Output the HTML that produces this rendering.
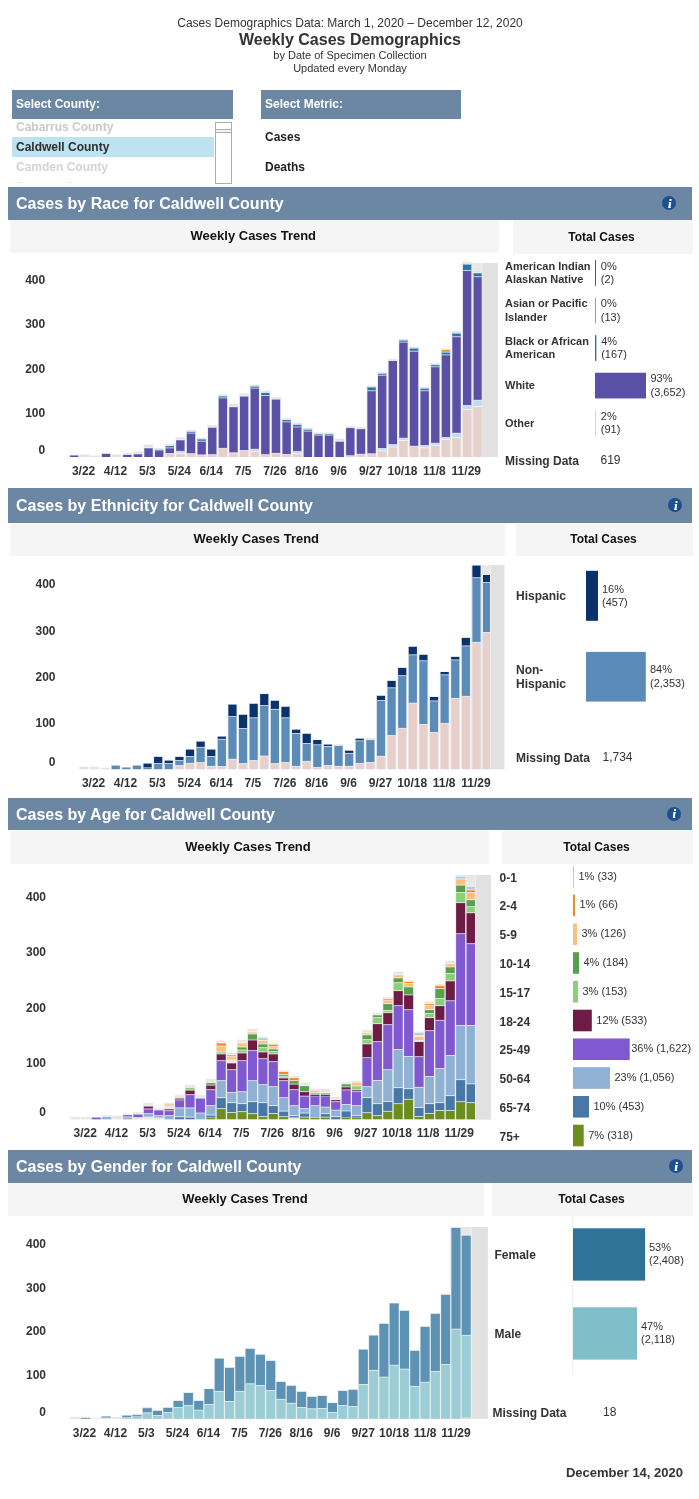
<!DOCTYPE html><html><head><meta charset="utf-8"><title>Weekly Cases Demographics</title>
<style>html,body{margin:0;padding:0;background:#fff;}body{width:699px;height:1499px;position:relative;overflow:hidden;font-family:"Liberation Sans", Arial, sans-serif;}svg{position:absolute;left:0;top:0;}</style></head><body>
<svg width="699" height="1499" viewBox="0 0 699 1499" shape-rendering="auto">
<rect x="462.50" y="263.00" width="35.30" height="194.00" fill="#efefef"/>
<rect x="462.50" y="263.00" width="19.00" height="194.00" fill="#e8e8e8"/>
<rect x="482.30" y="263.00" width="15.50" height="194.00" fill="#e1e1e1"/>
<rect x="69.20" y="455.02" width="10.00" height="1.98" fill="#ececec"/>
<rect x="70.00" y="455.50" width="8.40" height="1.50" fill="#5a50a6"/>
<rect x="79.82" y="454.42" width="10.00" height="2.58" fill="#ececec"/>
<rect x="80.62" y="454.90" width="8.40" height="2.10" fill="#e3e3e3"/>
<rect x="90.44" y="455.42" width="10.00" height="1.58" fill="#ececec"/>
<rect x="91.24" y="455.90" width="8.40" height="1.10" fill="#e3e3e3"/>
<rect x="101.06" y="452.72" width="10.00" height="4.28" fill="#ececec"/>
<rect x="101.86" y="453.70" width="8.40" height="3.30" fill="#5a50a6"/>
<rect x="101.86" y="453.20" width="8.40" height="0.50" fill="#e3e3e3"/>
<rect x="101.86" y="453.52" width="8.40" height="0.36" fill="#ffffff" fill-opacity="0.8"/>
<rect x="111.68" y="454.42" width="10.00" height="2.58" fill="#ececec"/>
<rect x="112.48" y="454.90" width="8.40" height="2.10" fill="#e3e3e3"/>
<rect x="122.30" y="452.82" width="10.00" height="4.18" fill="#ececec"/>
<rect x="123.10" y="454.70" width="8.40" height="2.30" fill="#5a50a6"/>
<rect x="123.10" y="453.30" width="8.40" height="1.40" fill="#e3e3e3"/>
<rect x="123.10" y="454.52" width="8.40" height="0.36" fill="#ffffff" fill-opacity="0.8"/>
<rect x="132.92" y="451.42" width="10.00" height="5.58" fill="#ececec"/>
<rect x="133.72" y="453.90" width="8.40" height="3.10" fill="#5a50a6"/>
<rect x="133.72" y="451.90" width="8.40" height="2.00" fill="#e3e3e3"/>
<rect x="133.72" y="453.50" width="8.40" height="0.80" fill="#ffffff" fill-opacity="0.8"/>
<rect x="143.54" y="444.42" width="10.00" height="12.58" fill="#ececec"/>
<rect x="144.34" y="447.90" width="8.40" height="9.10" fill="#5a50a6"/>
<rect x="144.34" y="444.90" width="8.40" height="3.00" fill="#e3e3e3"/>
<rect x="144.34" y="447.50" width="8.40" height="0.80" fill="#ffffff" fill-opacity="0.8"/>
<rect x="154.16" y="448.02" width="10.00" height="8.98" fill="#ececec"/>
<rect x="154.96" y="450.90" width="8.40" height="6.10" fill="#5a50a6"/>
<rect x="154.96" y="449.50" width="8.40" height="1.40" fill="#2f74a8"/>
<rect x="154.96" y="448.50" width="8.40" height="1.00" fill="#e3e3e3"/>
<rect x="154.96" y="450.72" width="8.40" height="0.36" fill="#ffffff" fill-opacity="0.8"/>
<rect x="154.96" y="449.32" width="8.40" height="0.36" fill="#ffffff" fill-opacity="0.8"/>
<rect x="164.78" y="444.02" width="10.00" height="12.98" fill="#ececec"/>
<rect x="165.58" y="453.50" width="8.40" height="3.50" fill="#e7d0cb"/>
<rect x="165.58" y="447.90" width="8.40" height="5.60" fill="#5a50a6"/>
<rect x="165.58" y="445.90" width="8.40" height="2.00" fill="#2f74a8"/>
<rect x="165.58" y="444.50" width="8.40" height="1.40" fill="#e3e3e3"/>
<rect x="165.58" y="453.10" width="8.40" height="0.80" fill="#ffffff" fill-opacity="0.8"/>
<rect x="165.58" y="447.50" width="8.40" height="0.80" fill="#ffffff" fill-opacity="0.8"/>
<rect x="165.58" y="445.72" width="8.40" height="0.36" fill="#ffffff" fill-opacity="0.8"/>
<rect x="175.40" y="437.42" width="10.00" height="19.58" fill="#ececec"/>
<rect x="176.20" y="453.50" width="8.40" height="3.50" fill="#e7d0cb"/>
<rect x="176.20" y="451.30" width="8.40" height="2.20" fill="#bcdcf0"/>
<rect x="176.20" y="439.90" width="8.40" height="11.40" fill="#5a50a6"/>
<rect x="176.20" y="437.90" width="8.40" height="2.00" fill="#e3e3e3"/>
<rect x="176.20" y="453.10" width="8.40" height="0.80" fill="#ffffff" fill-opacity="0.8"/>
<rect x="176.20" y="450.90" width="8.40" height="0.80" fill="#ffffff" fill-opacity="0.8"/>
<rect x="176.20" y="439.50" width="8.40" height="0.80" fill="#ffffff" fill-opacity="0.8"/>
<rect x="186.02" y="429.72" width="10.00" height="27.28" fill="#ececec"/>
<rect x="186.82" y="453.70" width="8.40" height="3.30" fill="#e7d0cb"/>
<rect x="186.82" y="433.10" width="8.40" height="20.60" fill="#5a50a6"/>
<rect x="186.82" y="431.50" width="8.40" height="1.60" fill="#2f74a8"/>
<rect x="186.82" y="430.20" width="8.40" height="1.30" fill="#e3e3e3"/>
<rect x="186.82" y="453.30" width="8.40" height="0.80" fill="#ffffff" fill-opacity="0.8"/>
<rect x="186.82" y="432.70" width="8.40" height="0.80" fill="#ffffff" fill-opacity="0.8"/>
<rect x="186.82" y="431.32" width="8.40" height="0.36" fill="#ffffff" fill-opacity="0.8"/>
<rect x="196.64" y="437.52" width="10.00" height="19.48" fill="#ececec"/>
<rect x="197.44" y="454.90" width="8.40" height="2.10" fill="#e7d0cb"/>
<rect x="197.44" y="441.20" width="8.40" height="13.70" fill="#5a50a6"/>
<rect x="197.44" y="439.10" width="8.40" height="2.10" fill="#2f74a8"/>
<rect x="197.44" y="438.00" width="8.40" height="1.10" fill="#e3e3e3"/>
<rect x="197.44" y="454.50" width="8.40" height="0.80" fill="#ffffff" fill-opacity="0.8"/>
<rect x="197.44" y="440.80" width="8.40" height="0.80" fill="#ffffff" fill-opacity="0.8"/>
<rect x="197.44" y="438.92" width="8.40" height="0.36" fill="#ffffff" fill-opacity="0.8"/>
<rect x="207.26" y="424.92" width="10.00" height="32.08" fill="#ececec"/>
<rect x="208.06" y="454.70" width="8.40" height="2.30" fill="#e7d0cb"/>
<rect x="208.06" y="427.20" width="8.40" height="27.50" fill="#5a50a6"/>
<rect x="208.06" y="425.40" width="8.40" height="1.80" fill="#e3e3e3"/>
<rect x="208.06" y="454.30" width="8.40" height="0.80" fill="#ffffff" fill-opacity="0.8"/>
<rect x="208.06" y="426.80" width="8.40" height="0.80" fill="#ffffff" fill-opacity="0.8"/>
<rect x="217.88" y="394.42" width="10.00" height="62.58" fill="#ececec"/>
<rect x="218.68" y="448.30" width="8.40" height="8.70" fill="#e7d0cb"/>
<rect x="218.68" y="397.90" width="8.40" height="50.40" fill="#5a50a6"/>
<rect x="218.68" y="396.10" width="8.40" height="1.80" fill="#2f74a8"/>
<rect x="218.68" y="394.90" width="8.40" height="1.20" fill="#e3e3e3"/>
<rect x="218.68" y="447.90" width="8.40" height="0.80" fill="#ffffff" fill-opacity="0.8"/>
<rect x="218.68" y="397.50" width="8.40" height="0.80" fill="#ffffff" fill-opacity="0.8"/>
<rect x="218.68" y="395.92" width="8.40" height="0.36" fill="#ffffff" fill-opacity="0.8"/>
<rect x="228.50" y="403.82" width="10.00" height="53.18" fill="#ececec"/>
<rect x="229.30" y="452.80" width="8.40" height="4.20" fill="#e7d0cb"/>
<rect x="229.30" y="406.80" width="8.40" height="46.00" fill="#5a50a6"/>
<rect x="229.30" y="404.30" width="8.40" height="2.50" fill="#e3e3e3"/>
<rect x="229.30" y="452.40" width="8.40" height="0.80" fill="#ffffff" fill-opacity="0.8"/>
<rect x="229.30" y="406.40" width="8.40" height="0.80" fill="#ffffff" fill-opacity="0.8"/>
<rect x="239.12" y="393.32" width="10.00" height="63.68" fill="#ececec"/>
<rect x="239.92" y="450.50" width="8.40" height="6.50" fill="#e7d0cb"/>
<rect x="239.92" y="396.10" width="8.40" height="54.40" fill="#5a50a6"/>
<rect x="239.92" y="393.80" width="8.40" height="2.30" fill="#e3e3e3"/>
<rect x="239.92" y="450.10" width="8.40" height="0.80" fill="#ffffff" fill-opacity="0.8"/>
<rect x="239.92" y="395.70" width="8.40" height="0.80" fill="#ffffff" fill-opacity="0.8"/>
<rect x="249.74" y="384.62" width="10.00" height="72.38" fill="#ececec"/>
<rect x="250.54" y="451.50" width="8.40" height="5.50" fill="#e7d0cb"/>
<rect x="250.54" y="449.20" width="8.40" height="2.30" fill="#bcdcf0"/>
<rect x="250.54" y="388.10" width="8.40" height="61.10" fill="#5a50a6"/>
<rect x="250.54" y="386.20" width="8.40" height="1.90" fill="#2f74a8"/>
<rect x="250.54" y="385.10" width="8.40" height="1.10" fill="#e3e3e3"/>
<rect x="250.54" y="451.10" width="8.40" height="0.80" fill="#ffffff" fill-opacity="0.8"/>
<rect x="250.54" y="448.80" width="8.40" height="0.80" fill="#ffffff" fill-opacity="0.8"/>
<rect x="250.54" y="387.70" width="8.40" height="0.80" fill="#ffffff" fill-opacity="0.8"/>
<rect x="250.54" y="386.02" width="8.40" height="0.36" fill="#ffffff" fill-opacity="0.8"/>
<rect x="260.36" y="390.52" width="10.00" height="66.48" fill="#ececec"/>
<rect x="261.16" y="454.70" width="8.40" height="2.30" fill="#e7d0cb"/>
<rect x="261.16" y="395.60" width="8.40" height="59.10" fill="#5a50a6"/>
<rect x="261.16" y="392.60" width="8.40" height="3.00" fill="#2f74a8"/>
<rect x="261.16" y="391.00" width="8.40" height="1.60" fill="#e3e3e3"/>
<rect x="261.16" y="454.30" width="8.40" height="0.80" fill="#ffffff" fill-opacity="0.8"/>
<rect x="261.16" y="395.20" width="8.40" height="0.80" fill="#ffffff" fill-opacity="0.8"/>
<rect x="261.16" y="392.42" width="8.40" height="0.36" fill="#ffffff" fill-opacity="0.8"/>
<rect x="270.98" y="396.72" width="10.00" height="60.28" fill="#ececec"/>
<rect x="271.78" y="453.30" width="8.40" height="3.70" fill="#e7d0cb"/>
<rect x="271.78" y="399.10" width="8.40" height="54.20" fill="#5a50a6"/>
<rect x="271.78" y="397.20" width="8.40" height="1.90" fill="#e3e3e3"/>
<rect x="271.78" y="452.90" width="8.40" height="0.80" fill="#ffffff" fill-opacity="0.8"/>
<rect x="271.78" y="398.70" width="8.40" height="0.80" fill="#ffffff" fill-opacity="0.8"/>
<rect x="281.60" y="418.02" width="10.00" height="38.98" fill="#ececec"/>
<rect x="282.40" y="454.50" width="8.40" height="2.50" fill="#e7d0cb"/>
<rect x="282.40" y="421.90" width="8.40" height="32.60" fill="#5a50a6"/>
<rect x="282.40" y="419.90" width="8.40" height="2.00" fill="#2f74a8"/>
<rect x="282.40" y="418.50" width="8.40" height="1.40" fill="#e3e3e3"/>
<rect x="282.40" y="454.10" width="8.40" height="0.80" fill="#ffffff" fill-opacity="0.8"/>
<rect x="282.40" y="421.50" width="8.40" height="0.80" fill="#ffffff" fill-opacity="0.8"/>
<rect x="282.40" y="419.72" width="8.40" height="0.36" fill="#ffffff" fill-opacity="0.8"/>
<rect x="292.22" y="422.62" width="10.00" height="34.38" fill="#ececec"/>
<rect x="293.02" y="453.80" width="8.40" height="3.20" fill="#e7d0cb"/>
<rect x="293.02" y="451.50" width="8.40" height="2.30" fill="#bcdcf0"/>
<rect x="293.02" y="427.00" width="8.40" height="24.50" fill="#5a50a6"/>
<rect x="293.02" y="424.50" width="8.40" height="2.50" fill="#2f74a8"/>
<rect x="293.02" y="423.10" width="8.40" height="1.40" fill="#e3e3e3"/>
<rect x="293.02" y="453.40" width="8.40" height="0.80" fill="#ffffff" fill-opacity="0.8"/>
<rect x="293.02" y="451.10" width="8.40" height="0.80" fill="#ffffff" fill-opacity="0.8"/>
<rect x="293.02" y="426.60" width="8.40" height="0.80" fill="#ffffff" fill-opacity="0.8"/>
<rect x="293.02" y="424.32" width="8.40" height="0.36" fill="#ffffff" fill-opacity="0.8"/>
<rect x="302.84" y="427.62" width="10.00" height="29.38" fill="#ececec"/>
<rect x="303.64" y="431.10" width="8.40" height="25.90" fill="#5a50a6"/>
<rect x="303.64" y="429.30" width="8.40" height="1.80" fill="#2f74a8"/>
<rect x="303.64" y="428.10" width="8.40" height="1.20" fill="#e3e3e3"/>
<rect x="303.64" y="430.70" width="8.40" height="0.80" fill="#ffffff" fill-opacity="0.8"/>
<rect x="303.64" y="429.12" width="8.40" height="0.36" fill="#ffffff" fill-opacity="0.8"/>
<rect x="313.46" y="432.42" width="10.00" height="24.58" fill="#ececec"/>
<rect x="314.26" y="435.70" width="8.40" height="21.30" fill="#5a50a6"/>
<rect x="314.26" y="434.10" width="8.40" height="1.60" fill="#2f74a8"/>
<rect x="314.26" y="432.90" width="8.40" height="1.20" fill="#e3e3e3"/>
<rect x="314.26" y="435.52" width="8.40" height="0.36" fill="#ffffff" fill-opacity="0.8"/>
<rect x="314.26" y="433.92" width="8.40" height="0.36" fill="#ffffff" fill-opacity="0.8"/>
<rect x="324.08" y="432.42" width="10.00" height="24.58" fill="#ececec"/>
<rect x="324.88" y="435.70" width="8.40" height="21.30" fill="#5a50a6"/>
<rect x="324.88" y="434.10" width="8.40" height="1.60" fill="#2f74a8"/>
<rect x="324.88" y="432.90" width="8.40" height="1.20" fill="#e3e3e3"/>
<rect x="324.88" y="435.52" width="8.40" height="0.36" fill="#ffffff" fill-opacity="0.8"/>
<rect x="324.88" y="433.92" width="8.40" height="0.36" fill="#ffffff" fill-opacity="0.8"/>
<rect x="334.70" y="438.62" width="10.00" height="18.38" fill="#ececec"/>
<rect x="335.50" y="441.20" width="8.40" height="15.80" fill="#5a50a6"/>
<rect x="335.50" y="439.10" width="8.40" height="2.10" fill="#e3e3e3"/>
<rect x="335.50" y="440.80" width="8.40" height="0.80" fill="#ffffff" fill-opacity="0.8"/>
<rect x="345.32" y="426.22" width="10.00" height="30.78" fill="#ececec"/>
<rect x="346.12" y="455.40" width="8.40" height="1.60" fill="#e7d0cb"/>
<rect x="346.12" y="427.90" width="8.40" height="27.50" fill="#5a50a6"/>
<rect x="346.12" y="426.70" width="8.40" height="1.20" fill="#e3e3e3"/>
<rect x="346.12" y="455.22" width="8.40" height="0.36" fill="#ffffff" fill-opacity="0.8"/>
<rect x="346.12" y="427.72" width="8.40" height="0.36" fill="#ffffff" fill-opacity="0.8"/>
<rect x="355.94" y="427.02" width="10.00" height="29.98" fill="#ececec"/>
<rect x="356.74" y="454.20" width="8.40" height="2.80" fill="#e7d0cb"/>
<rect x="356.74" y="429.00" width="8.40" height="25.20" fill="#5a50a6"/>
<rect x="356.74" y="427.50" width="8.40" height="1.50" fill="#e3e3e3"/>
<rect x="356.74" y="453.80" width="8.40" height="0.80" fill="#ffffff" fill-opacity="0.8"/>
<rect x="356.74" y="428.82" width="8.40" height="0.36" fill="#ffffff" fill-opacity="0.8"/>
<rect x="366.56" y="385.52" width="10.00" height="71.48" fill="#ececec"/>
<rect x="367.36" y="453.80" width="8.40" height="3.20" fill="#e7d0cb"/>
<rect x="367.36" y="390.80" width="8.40" height="63.00" fill="#5a50a6"/>
<rect x="367.36" y="387.10" width="8.40" height="3.70" fill="#2f74a8"/>
<rect x="367.36" y="386.00" width="8.40" height="1.10" fill="#e3e3e3"/>
<rect x="367.36" y="453.40" width="8.40" height="0.80" fill="#ffffff" fill-opacity="0.8"/>
<rect x="367.36" y="390.40" width="8.40" height="0.80" fill="#ffffff" fill-opacity="0.8"/>
<rect x="367.36" y="386.92" width="8.40" height="0.36" fill="#ffffff" fill-opacity="0.8"/>
<rect x="377.18" y="371.82" width="10.00" height="85.18" fill="#ececec"/>
<rect x="377.98" y="450.80" width="8.40" height="6.20" fill="#e7d0cb"/>
<rect x="377.98" y="448.50" width="8.40" height="2.30" fill="#bcdcf0"/>
<rect x="377.98" y="375.20" width="8.40" height="73.30" fill="#5a50a6"/>
<rect x="377.98" y="373.40" width="8.40" height="1.80" fill="#2f74a8"/>
<rect x="377.98" y="372.30" width="8.40" height="1.10" fill="#e3e3e3"/>
<rect x="377.98" y="450.40" width="8.40" height="0.80" fill="#ffffff" fill-opacity="0.8"/>
<rect x="377.98" y="448.10" width="8.40" height="0.80" fill="#ffffff" fill-opacity="0.8"/>
<rect x="377.98" y="374.80" width="8.40" height="0.80" fill="#ffffff" fill-opacity="0.8"/>
<rect x="377.98" y="373.22" width="8.40" height="0.36" fill="#ffffff" fill-opacity="0.8"/>
<rect x="387.80" y="358.72" width="10.00" height="98.28" fill="#ececec"/>
<rect x="388.60" y="446.90" width="8.40" height="10.10" fill="#e7d0cb"/>
<rect x="388.60" y="444.60" width="8.40" height="2.30" fill="#bcdcf0"/>
<rect x="388.60" y="360.80" width="8.40" height="83.80" fill="#5a50a6"/>
<rect x="388.60" y="359.20" width="8.40" height="1.60" fill="#e3e3e3"/>
<rect x="388.60" y="446.50" width="8.40" height="0.80" fill="#ffffff" fill-opacity="0.8"/>
<rect x="388.60" y="444.20" width="8.40" height="0.80" fill="#ffffff" fill-opacity="0.8"/>
<rect x="388.60" y="360.62" width="8.40" height="0.36" fill="#ffffff" fill-opacity="0.8"/>
<rect x="398.42" y="338.62" width="10.00" height="118.38" fill="#ececec"/>
<rect x="399.22" y="440.50" width="8.40" height="16.50" fill="#e7d0cb"/>
<rect x="399.22" y="438.20" width="8.40" height="2.30" fill="#bcdcf0"/>
<rect x="399.22" y="342.10" width="8.40" height="96.10" fill="#5a50a6"/>
<rect x="399.22" y="340.20" width="8.40" height="1.90" fill="#2f74a8"/>
<rect x="399.22" y="339.10" width="8.40" height="1.10" fill="#e3e3e3"/>
<rect x="399.22" y="440.10" width="8.40" height="0.80" fill="#ffffff" fill-opacity="0.8"/>
<rect x="399.22" y="437.80" width="8.40" height="0.80" fill="#ffffff" fill-opacity="0.8"/>
<rect x="399.22" y="341.70" width="8.40" height="0.80" fill="#ffffff" fill-opacity="0.8"/>
<rect x="399.22" y="340.02" width="8.40" height="0.36" fill="#ffffff" fill-opacity="0.8"/>
<rect x="409.04" y="346.62" width="10.00" height="110.38" fill="#ececec"/>
<rect x="409.84" y="446.20" width="8.40" height="10.80" fill="#e7d0cb"/>
<rect x="409.84" y="351.20" width="8.40" height="95.00" fill="#5a50a6"/>
<rect x="409.84" y="348.20" width="8.40" height="3.00" fill="#2f74a8"/>
<rect x="409.84" y="347.10" width="8.40" height="1.10" fill="#e3e3e3"/>
<rect x="409.84" y="445.80" width="8.40" height="0.80" fill="#ffffff" fill-opacity="0.8"/>
<rect x="409.84" y="350.80" width="8.40" height="0.80" fill="#ffffff" fill-opacity="0.8"/>
<rect x="409.84" y="348.02" width="8.40" height="0.36" fill="#ffffff" fill-opacity="0.8"/>
<rect x="419.66" y="386.62" width="10.00" height="70.38" fill="#ececec"/>
<rect x="420.46" y="447.80" width="8.40" height="9.20" fill="#e7d0cb"/>
<rect x="420.46" y="445.50" width="8.40" height="2.30" fill="#bcdcf0"/>
<rect x="420.46" y="390.80" width="8.40" height="54.70" fill="#5a50a6"/>
<rect x="420.46" y="388.30" width="8.40" height="2.50" fill="#2f74a8"/>
<rect x="420.46" y="387.10" width="8.40" height="1.20" fill="#e3e3e3"/>
<rect x="420.46" y="447.40" width="8.40" height="0.80" fill="#ffffff" fill-opacity="0.8"/>
<rect x="420.46" y="445.10" width="8.40" height="0.80" fill="#ffffff" fill-opacity="0.8"/>
<rect x="420.46" y="390.40" width="8.40" height="0.80" fill="#ffffff" fill-opacity="0.8"/>
<rect x="420.46" y="388.12" width="8.40" height="0.36" fill="#ffffff" fill-opacity="0.8"/>
<rect x="430.28" y="363.12" width="10.00" height="93.88" fill="#ececec"/>
<rect x="431.08" y="445.50" width="8.40" height="11.50" fill="#e7d0cb"/>
<rect x="431.08" y="443.20" width="8.40" height="2.30" fill="#bcdcf0"/>
<rect x="431.08" y="366.80" width="8.40" height="76.40" fill="#5a50a6"/>
<rect x="431.08" y="364.90" width="8.40" height="1.90" fill="#2f74a8"/>
<rect x="431.08" y="363.60" width="8.40" height="1.30" fill="#e3e3e3"/>
<rect x="431.08" y="445.10" width="8.40" height="0.80" fill="#ffffff" fill-opacity="0.8"/>
<rect x="431.08" y="442.80" width="8.40" height="0.80" fill="#ffffff" fill-opacity="0.8"/>
<rect x="431.08" y="366.40" width="8.40" height="0.80" fill="#ffffff" fill-opacity="0.8"/>
<rect x="431.08" y="364.72" width="8.40" height="0.36" fill="#ffffff" fill-opacity="0.8"/>
<rect x="440.90" y="348.42" width="10.00" height="108.58" fill="#ececec"/>
<rect x="441.70" y="439.60" width="8.40" height="17.40" fill="#e7d0cb"/>
<rect x="441.70" y="437.50" width="8.40" height="2.10" fill="#bcdcf0"/>
<rect x="441.70" y="354.90" width="8.40" height="82.60" fill="#5a50a6"/>
<rect x="441.70" y="352.10" width="8.40" height="2.80" fill="#2f74a8"/>
<rect x="441.70" y="349.80" width="8.40" height="2.30" fill="#f08a24"/>
<rect x="441.70" y="348.90" width="8.40" height="0.90" fill="#e3e3e3"/>
<rect x="441.70" y="439.20" width="8.40" height="0.80" fill="#ffffff" fill-opacity="0.8"/>
<rect x="441.70" y="437.10" width="8.40" height="0.80" fill="#ffffff" fill-opacity="0.8"/>
<rect x="441.70" y="354.50" width="8.40" height="0.80" fill="#ffffff" fill-opacity="0.8"/>
<rect x="441.70" y="351.70" width="8.40" height="0.80" fill="#ffffff" fill-opacity="0.8"/>
<rect x="441.70" y="349.62" width="8.40" height="0.36" fill="#ffffff" fill-opacity="0.8"/>
<rect x="451.52" y="330.82" width="10.00" height="126.18" fill="#ececec"/>
<rect x="452.32" y="437.50" width="8.40" height="19.50" fill="#e7d0cb"/>
<rect x="452.32" y="433.20" width="8.40" height="4.30" fill="#bcdcf0"/>
<rect x="452.32" y="336.80" width="8.40" height="96.40" fill="#5a50a6"/>
<rect x="452.32" y="333.10" width="8.40" height="3.70" fill="#2f74a8"/>
<rect x="452.32" y="331.30" width="8.40" height="1.80" fill="#e3e3e3"/>
<rect x="452.32" y="437.10" width="8.40" height="0.80" fill="#ffffff" fill-opacity="0.8"/>
<rect x="452.32" y="432.80" width="8.40" height="0.80" fill="#ffffff" fill-opacity="0.8"/>
<rect x="452.32" y="336.40" width="8.40" height="0.80" fill="#ffffff" fill-opacity="0.8"/>
<rect x="452.32" y="332.70" width="8.40" height="0.80" fill="#ffffff" fill-opacity="0.8"/>
<rect x="462.14" y="262.12" width="10.00" height="194.88" fill="#ececec"/>
<rect x="462.94" y="409.60" width="8.40" height="47.40" fill="#e7d0cb"/>
<rect x="462.94" y="405.50" width="8.40" height="4.10" fill="#bcdcf0"/>
<rect x="462.94" y="270.60" width="8.40" height="134.90" fill="#5a50a6"/>
<rect x="462.94" y="264.20" width="8.40" height="6.40" fill="#2f74a8"/>
<rect x="462.94" y="262.60" width="8.40" height="1.60" fill="#e3e3e3"/>
<rect x="462.94" y="409.20" width="8.40" height="0.80" fill="#ffffff" fill-opacity="0.8"/>
<rect x="462.94" y="405.10" width="8.40" height="0.80" fill="#ffffff" fill-opacity="0.8"/>
<rect x="462.94" y="270.20" width="8.40" height="0.80" fill="#ffffff" fill-opacity="0.8"/>
<rect x="462.94" y="264.02" width="8.40" height="0.36" fill="#ffffff" fill-opacity="0.8"/>
<rect x="472.76" y="270.62" width="9.24" height="186.38" fill="#ececec"/>
<rect x="473.56" y="406.60" width="8.14" height="50.40" fill="#e7d0cb"/>
<rect x="473.56" y="400.20" width="8.14" height="6.40" fill="#bcdcf0"/>
<rect x="473.56" y="276.80" width="8.14" height="123.40" fill="#5a50a6"/>
<rect x="473.56" y="272.90" width="8.14" height="3.90" fill="#2f74a8"/>
<rect x="473.56" y="271.10" width="8.14" height="1.80" fill="#e3e3e3"/>
<rect x="473.56" y="406.20" width="8.14" height="0.80" fill="#ffffff" fill-opacity="0.8"/>
<rect x="473.56" y="399.80" width="8.14" height="0.80" fill="#ffffff" fill-opacity="0.8"/>
<rect x="473.56" y="276.40" width="8.14" height="0.80" fill="#ffffff" fill-opacity="0.8"/>
<rect x="473.56" y="272.50" width="8.14" height="0.80" fill="#ffffff" fill-opacity="0.8"/>
<rect x="595.00" y="260.10" width="1.00" height="25.70" fill="#2a5f9e"/>
<rect x="595.00" y="297.65" width="1.00" height="25.70" fill="#f08a24"/>
<rect x="595.00" y="335.20" width="1.40" height="25.70" fill="#2f74a8"/>
<rect x="595.00" y="372.75" width="51.00" height="25.70" fill="#5a50a6"/>
<rect x="595.00" y="410.30" width="1.00" height="25.70" fill="#bcdcf0"/>
<rect x="471.30" y="565.00" width="33.00" height="204.20" fill="#efefef"/>
<rect x="471.30" y="565.00" width="18.90" height="204.20" fill="#e8e8e8"/>
<rect x="491.00" y="565.00" width="13.30" height="204.20" fill="#e1e1e1"/>
<rect x="79.00" y="766.52" width="9.80" height="2.68" fill="#ececec"/>
<rect x="79.80" y="767.00" width="8.20" height="2.20" fill="#e3e3e3"/>
<rect x="89.61" y="766.52" width="9.80" height="2.68" fill="#ececec"/>
<rect x="90.41" y="767.00" width="8.20" height="2.20" fill="#e3e3e3"/>
<rect x="100.22" y="767.62" width="9.80" height="1.58" fill="#ececec"/>
<rect x="101.02" y="768.10" width="8.20" height="1.10" fill="#e3e3e3"/>
<rect x="110.83" y="765.12" width="9.80" height="4.08" fill="#ececec"/>
<rect x="111.63" y="765.60" width="8.20" height="3.60" fill="#5b8cb9"/>
<rect x="121.44" y="767.02" width="9.80" height="2.18" fill="#ececec"/>
<rect x="122.24" y="767.50" width="8.20" height="1.70" fill="#5b8cb9"/>
<rect x="132.05" y="765.12" width="9.80" height="4.08" fill="#ececec"/>
<rect x="132.85" y="765.60" width="8.20" height="3.60" fill="#5b8cb9"/>
<rect x="142.66" y="763.12" width="9.80" height="6.08" fill="#ececec"/>
<rect x="143.46" y="767.60" width="8.20" height="1.60" fill="#5b8cb9"/>
<rect x="143.46" y="763.60" width="8.20" height="4.00" fill="#0a336d"/>
<rect x="143.46" y="767.42" width="8.20" height="0.36" fill="#ffffff" fill-opacity="0.8"/>
<rect x="153.27" y="756.42" width="9.80" height="12.78" fill="#ececec"/>
<rect x="154.07" y="763.60" width="8.20" height="5.60" fill="#5b8cb9"/>
<rect x="154.07" y="756.90" width="8.20" height="6.70" fill="#0a336d"/>
<rect x="154.07" y="763.20" width="8.20" height="0.80" fill="#ffffff" fill-opacity="0.8"/>
<rect x="163.88" y="760.12" width="9.80" height="9.08" fill="#ececec"/>
<rect x="164.68" y="763.60" width="8.20" height="5.60" fill="#5b8cb9"/>
<rect x="164.68" y="760.60" width="8.20" height="3.00" fill="#0a336d"/>
<rect x="164.68" y="763.20" width="8.20" height="0.80" fill="#ffffff" fill-opacity="0.8"/>
<rect x="174.49" y="756.42" width="9.80" height="12.78" fill="#ececec"/>
<rect x="175.29" y="765.60" width="8.20" height="3.60" fill="#e7d0cb"/>
<rect x="175.29" y="760.60" width="8.20" height="5.00" fill="#5b8cb9"/>
<rect x="175.29" y="756.90" width="8.20" height="3.70" fill="#0a336d"/>
<rect x="175.29" y="765.20" width="8.20" height="0.80" fill="#ffffff" fill-opacity="0.8"/>
<rect x="175.29" y="760.20" width="8.20" height="0.80" fill="#ffffff" fill-opacity="0.8"/>
<rect x="185.10" y="749.12" width="9.80" height="20.08" fill="#ececec"/>
<rect x="185.90" y="763.30" width="8.20" height="5.90" fill="#e7d0cb"/>
<rect x="185.90" y="756.50" width="8.20" height="6.80" fill="#5b8cb9"/>
<rect x="185.90" y="749.60" width="8.20" height="6.90" fill="#0a336d"/>
<rect x="185.90" y="762.90" width="8.20" height="0.80" fill="#ffffff" fill-opacity="0.8"/>
<rect x="185.90" y="756.10" width="8.20" height="0.80" fill="#ffffff" fill-opacity="0.8"/>
<rect x="195.71" y="741.12" width="9.80" height="28.08" fill="#ececec"/>
<rect x="196.51" y="762.60" width="8.20" height="6.60" fill="#e7d0cb"/>
<rect x="196.51" y="747.30" width="8.20" height="15.30" fill="#5b8cb9"/>
<rect x="196.51" y="741.60" width="8.20" height="5.70" fill="#0a336d"/>
<rect x="196.51" y="762.20" width="8.20" height="0.80" fill="#ffffff" fill-opacity="0.8"/>
<rect x="196.51" y="746.90" width="8.20" height="0.80" fill="#ffffff" fill-opacity="0.8"/>
<rect x="206.32" y="749.12" width="9.80" height="20.08" fill="#ececec"/>
<rect x="207.12" y="766.30" width="8.20" height="2.90" fill="#e7d0cb"/>
<rect x="207.12" y="756.50" width="8.20" height="9.80" fill="#5b8cb9"/>
<rect x="207.12" y="749.60" width="8.20" height="6.90" fill="#0a336d"/>
<rect x="207.12" y="765.90" width="8.20" height="0.80" fill="#ffffff" fill-opacity="0.8"/>
<rect x="207.12" y="756.10" width="8.20" height="0.80" fill="#ffffff" fill-opacity="0.8"/>
<rect x="216.93" y="736.12" width="9.80" height="33.08" fill="#ececec"/>
<rect x="217.73" y="766.40" width="8.20" height="2.80" fill="#e7d0cb"/>
<rect x="217.73" y="739.20" width="8.20" height="27.20" fill="#5b8cb9"/>
<rect x="217.73" y="736.60" width="8.20" height="2.60" fill="#0a336d"/>
<rect x="217.73" y="766.00" width="8.20" height="0.80" fill="#ffffff" fill-opacity="0.8"/>
<rect x="217.73" y="738.80" width="8.20" height="0.80" fill="#ffffff" fill-opacity="0.8"/>
<rect x="227.54" y="704.12" width="9.80" height="65.08" fill="#ececec"/>
<rect x="228.34" y="759.20" width="8.20" height="10.00" fill="#e7d0cb"/>
<rect x="228.34" y="716.60" width="8.20" height="42.60" fill="#5b8cb9"/>
<rect x="228.34" y="704.60" width="8.20" height="12.00" fill="#0a336d"/>
<rect x="228.34" y="758.80" width="8.20" height="0.80" fill="#ffffff" fill-opacity="0.8"/>
<rect x="228.34" y="716.20" width="8.20" height="0.80" fill="#ffffff" fill-opacity="0.8"/>
<rect x="238.15" y="714.32" width="9.80" height="54.88" fill="#ececec"/>
<rect x="238.95" y="763.60" width="8.20" height="5.60" fill="#e7d0cb"/>
<rect x="238.95" y="728.60" width="8.20" height="35.00" fill="#5b8cb9"/>
<rect x="238.95" y="714.80" width="8.20" height="13.80" fill="#0a336d"/>
<rect x="238.95" y="763.20" width="8.20" height="0.80" fill="#ffffff" fill-opacity="0.8"/>
<rect x="238.95" y="728.20" width="8.20" height="0.80" fill="#ffffff" fill-opacity="0.8"/>
<rect x="248.76" y="703.32" width="9.80" height="65.88" fill="#ececec"/>
<rect x="249.56" y="760.60" width="8.20" height="8.60" fill="#e7d0cb"/>
<rect x="249.56" y="717.80" width="8.20" height="42.80" fill="#5b8cb9"/>
<rect x="249.56" y="703.80" width="8.20" height="14.00" fill="#0a336d"/>
<rect x="249.56" y="760.20" width="8.20" height="0.80" fill="#ffffff" fill-opacity="0.8"/>
<rect x="249.56" y="717.40" width="8.20" height="0.80" fill="#ffffff" fill-opacity="0.8"/>
<rect x="259.37" y="693.52" width="9.80" height="75.68" fill="#ececec"/>
<rect x="260.17" y="756.00" width="8.20" height="13.20" fill="#e7d0cb"/>
<rect x="260.17" y="705.60" width="8.20" height="50.40" fill="#5b8cb9"/>
<rect x="260.17" y="694.00" width="8.20" height="11.60" fill="#0a336d"/>
<rect x="260.17" y="755.60" width="8.20" height="0.80" fill="#ffffff" fill-opacity="0.8"/>
<rect x="260.17" y="705.20" width="8.20" height="0.80" fill="#ffffff" fill-opacity="0.8"/>
<rect x="269.98" y="700.32" width="9.80" height="68.88" fill="#ececec"/>
<rect x="270.78" y="763.60" width="8.20" height="5.60" fill="#e7d0cb"/>
<rect x="270.78" y="709.30" width="8.20" height="54.30" fill="#5b8cb9"/>
<rect x="270.78" y="700.80" width="8.20" height="8.50" fill="#0a336d"/>
<rect x="270.78" y="763.20" width="8.20" height="0.80" fill="#ffffff" fill-opacity="0.8"/>
<rect x="270.78" y="708.90" width="8.20" height="0.80" fill="#ffffff" fill-opacity="0.8"/>
<rect x="280.59" y="706.32" width="9.80" height="62.88" fill="#ececec"/>
<rect x="281.39" y="762.40" width="8.20" height="6.80" fill="#e7d0cb"/>
<rect x="281.39" y="717.80" width="8.20" height="44.60" fill="#5b8cb9"/>
<rect x="281.39" y="706.80" width="8.20" height="11.00" fill="#0a336d"/>
<rect x="281.39" y="762.00" width="8.20" height="0.80" fill="#ffffff" fill-opacity="0.8"/>
<rect x="281.39" y="717.40" width="8.20" height="0.80" fill="#ffffff" fill-opacity="0.8"/>
<rect x="291.20" y="729.22" width="9.80" height="39.98" fill="#ececec"/>
<rect x="292.00" y="766.30" width="8.20" height="2.90" fill="#e7d0cb"/>
<rect x="292.00" y="733.40" width="8.20" height="32.90" fill="#5b8cb9"/>
<rect x="292.00" y="729.70" width="8.20" height="3.70" fill="#0a336d"/>
<rect x="292.00" y="765.90" width="8.20" height="0.80" fill="#ffffff" fill-opacity="0.8"/>
<rect x="292.00" y="733.00" width="8.20" height="0.80" fill="#ffffff" fill-opacity="0.8"/>
<rect x="301.81" y="733.32" width="9.80" height="35.88" fill="#ececec"/>
<rect x="302.61" y="761.30" width="8.20" height="7.90" fill="#e7d0cb"/>
<rect x="302.61" y="743.40" width="8.20" height="17.90" fill="#5b8cb9"/>
<rect x="302.61" y="733.80" width="8.20" height="9.60" fill="#0a336d"/>
<rect x="302.61" y="760.90" width="8.20" height="0.80" fill="#ffffff" fill-opacity="0.8"/>
<rect x="302.61" y="743.00" width="8.20" height="0.80" fill="#ffffff" fill-opacity="0.8"/>
<rect x="312.42" y="739.52" width="9.80" height="29.68" fill="#ececec"/>
<rect x="313.22" y="767.50" width="8.20" height="1.70" fill="#e7d0cb"/>
<rect x="313.22" y="744.80" width="8.20" height="22.70" fill="#5b8cb9"/>
<rect x="313.22" y="740.00" width="8.20" height="4.80" fill="#0a336d"/>
<rect x="313.22" y="767.10" width="8.20" height="0.80" fill="#ffffff" fill-opacity="0.8"/>
<rect x="313.22" y="744.40" width="8.20" height="0.80" fill="#ffffff" fill-opacity="0.8"/>
<rect x="323.03" y="744.12" width="9.80" height="25.08" fill="#ececec"/>
<rect x="323.83" y="765.40" width="8.20" height="3.80" fill="#e7d0cb"/>
<rect x="323.83" y="746.40" width="8.20" height="19.00" fill="#5b8cb9"/>
<rect x="323.83" y="744.60" width="8.20" height="1.80" fill="#0a336d"/>
<rect x="323.83" y="765.00" width="8.20" height="0.80" fill="#ffffff" fill-opacity="0.8"/>
<rect x="323.83" y="746.00" width="8.20" height="0.80" fill="#ffffff" fill-opacity="0.8"/>
<rect x="333.64" y="744.12" width="9.80" height="25.08" fill="#ececec"/>
<rect x="334.44" y="766.30" width="8.20" height="2.90" fill="#e7d0cb"/>
<rect x="334.44" y="745.70" width="8.20" height="20.60" fill="#5b8cb9"/>
<rect x="334.44" y="744.60" width="8.20" height="1.10" fill="#e3e3e3"/>
<rect x="334.44" y="765.90" width="8.20" height="0.80" fill="#ffffff" fill-opacity="0.8"/>
<rect x="334.44" y="745.52" width="8.20" height="0.36" fill="#ffffff" fill-opacity="0.8"/>
<rect x="344.25" y="750.22" width="9.80" height="18.98" fill="#ececec"/>
<rect x="345.05" y="766.30" width="8.20" height="2.90" fill="#e7d0cb"/>
<rect x="345.05" y="753.30" width="8.20" height="13.00" fill="#5b8cb9"/>
<rect x="345.05" y="750.70" width="8.20" height="2.60" fill="#0a336d"/>
<rect x="345.05" y="765.90" width="8.20" height="0.80" fill="#ffffff" fill-opacity="0.8"/>
<rect x="345.05" y="752.90" width="8.20" height="0.80" fill="#ffffff" fill-opacity="0.8"/>
<rect x="354.86" y="738.22" width="9.80" height="30.98" fill="#ececec"/>
<rect x="355.66" y="763.40" width="8.20" height="5.80" fill="#e7d0cb"/>
<rect x="355.66" y="740.80" width="8.20" height="22.60" fill="#5b8cb9"/>
<rect x="355.66" y="738.70" width="8.20" height="2.10" fill="#0a336d"/>
<rect x="355.66" y="763.00" width="8.20" height="0.80" fill="#ffffff" fill-opacity="0.8"/>
<rect x="355.66" y="740.40" width="8.20" height="0.80" fill="#ffffff" fill-opacity="0.8"/>
<rect x="365.47" y="737.92" width="9.80" height="31.28" fill="#ececec"/>
<rect x="366.27" y="762.40" width="8.20" height="6.80" fill="#e7d0cb"/>
<rect x="366.27" y="739.90" width="8.20" height="22.50" fill="#5b8cb9"/>
<rect x="366.27" y="738.40" width="8.20" height="1.50" fill="#e3e3e3"/>
<rect x="366.27" y="762.00" width="8.20" height="0.80" fill="#ffffff" fill-opacity="0.8"/>
<rect x="366.27" y="739.72" width="8.20" height="0.36" fill="#ffffff" fill-opacity="0.8"/>
<rect x="376.08" y="695.32" width="9.80" height="73.88" fill="#ececec"/>
<rect x="376.88" y="756.30" width="8.20" height="12.90" fill="#e7d0cb"/>
<rect x="376.88" y="700.60" width="8.20" height="55.70" fill="#5b8cb9"/>
<rect x="376.88" y="695.80" width="8.20" height="4.80" fill="#0a336d"/>
<rect x="376.88" y="755.90" width="8.20" height="0.80" fill="#ffffff" fill-opacity="0.8"/>
<rect x="376.88" y="700.20" width="8.20" height="0.80" fill="#ffffff" fill-opacity="0.8"/>
<rect x="386.69" y="680.42" width="9.80" height="88.78" fill="#ececec"/>
<rect x="387.49" y="735.40" width="8.20" height="33.80" fill="#e7d0cb"/>
<rect x="387.49" y="687.80" width="8.20" height="47.60" fill="#5b8cb9"/>
<rect x="387.49" y="680.90" width="8.20" height="6.90" fill="#0a336d"/>
<rect x="387.49" y="735.00" width="8.20" height="0.80" fill="#ffffff" fill-opacity="0.8"/>
<rect x="387.49" y="687.40" width="8.20" height="0.80" fill="#ffffff" fill-opacity="0.8"/>
<rect x="397.30" y="667.42" width="9.80" height="101.78" fill="#ececec"/>
<rect x="398.10" y="728.30" width="8.20" height="40.90" fill="#e7d0cb"/>
<rect x="398.10" y="675.70" width="8.20" height="52.60" fill="#5b8cb9"/>
<rect x="398.10" y="667.90" width="8.20" height="7.80" fill="#0a336d"/>
<rect x="398.10" y="727.90" width="8.20" height="0.80" fill="#ffffff" fill-opacity="0.8"/>
<rect x="398.10" y="675.30" width="8.20" height="0.80" fill="#ffffff" fill-opacity="0.8"/>
<rect x="407.91" y="646.32" width="9.80" height="122.88" fill="#ececec"/>
<rect x="408.71" y="703.10" width="8.20" height="66.10" fill="#e7d0cb"/>
<rect x="408.71" y="654.80" width="8.20" height="48.30" fill="#5b8cb9"/>
<rect x="408.71" y="646.80" width="8.20" height="8.00" fill="#0a336d"/>
<rect x="408.71" y="702.70" width="8.20" height="0.80" fill="#ffffff" fill-opacity="0.8"/>
<rect x="408.71" y="654.40" width="8.20" height="0.80" fill="#ffffff" fill-opacity="0.8"/>
<rect x="418.52" y="654.32" width="9.80" height="114.88" fill="#ececec"/>
<rect x="419.32" y="724.40" width="8.20" height="44.80" fill="#e7d0cb"/>
<rect x="419.32" y="660.80" width="8.20" height="63.60" fill="#5b8cb9"/>
<rect x="419.32" y="654.80" width="8.20" height="6.00" fill="#0a336d"/>
<rect x="419.32" y="724.00" width="8.20" height="0.80" fill="#ffffff" fill-opacity="0.8"/>
<rect x="419.32" y="660.40" width="8.20" height="0.80" fill="#ffffff" fill-opacity="0.8"/>
<rect x="429.13" y="696.52" width="9.80" height="72.68" fill="#ececec"/>
<rect x="429.93" y="732.40" width="8.20" height="36.80" fill="#e7d0cb"/>
<rect x="429.93" y="700.90" width="8.20" height="31.50" fill="#5b8cb9"/>
<rect x="429.93" y="697.00" width="8.20" height="3.90" fill="#0a336d"/>
<rect x="429.93" y="732.00" width="8.20" height="0.80" fill="#ffffff" fill-opacity="0.8"/>
<rect x="429.93" y="700.50" width="8.20" height="0.80" fill="#ffffff" fill-opacity="0.8"/>
<rect x="439.74" y="671.52" width="9.80" height="97.68" fill="#ececec"/>
<rect x="440.54" y="723.30" width="8.20" height="45.90" fill="#e7d0cb"/>
<rect x="440.54" y="674.80" width="8.20" height="48.50" fill="#5b8cb9"/>
<rect x="440.54" y="672.00" width="8.20" height="2.80" fill="#0a336d"/>
<rect x="440.54" y="722.90" width="8.20" height="0.80" fill="#ffffff" fill-opacity="0.8"/>
<rect x="440.54" y="674.40" width="8.20" height="0.80" fill="#ffffff" fill-opacity="0.8"/>
<rect x="450.35" y="656.42" width="9.80" height="112.78" fill="#ececec"/>
<rect x="451.15" y="698.30" width="8.20" height="70.90" fill="#e7d0cb"/>
<rect x="451.15" y="659.90" width="8.20" height="38.40" fill="#5b8cb9"/>
<rect x="451.15" y="656.90" width="8.20" height="3.00" fill="#0a336d"/>
<rect x="451.15" y="697.90" width="8.20" height="0.80" fill="#ffffff" fill-opacity="0.8"/>
<rect x="451.15" y="659.50" width="8.20" height="0.80" fill="#ffffff" fill-opacity="0.8"/>
<rect x="460.96" y="637.42" width="9.80" height="131.78" fill="#ececec"/>
<rect x="461.76" y="696.30" width="8.20" height="72.90" fill="#e7d0cb"/>
<rect x="461.76" y="645.90" width="8.20" height="50.40" fill="#5b8cb9"/>
<rect x="461.76" y="637.90" width="8.20" height="8.00" fill="#0a336d"/>
<rect x="461.76" y="695.90" width="8.20" height="0.80" fill="#ffffff" fill-opacity="0.8"/>
<rect x="461.76" y="645.50" width="8.20" height="0.80" fill="#ffffff" fill-opacity="0.8"/>
<rect x="471.57" y="565.12" width="9.80" height="204.08" fill="#ececec"/>
<rect x="472.37" y="642.30" width="8.20" height="126.90" fill="#e7d0cb"/>
<rect x="472.37" y="577.70" width="8.20" height="64.60" fill="#5b8cb9"/>
<rect x="472.37" y="565.60" width="8.20" height="12.10" fill="#0a336d"/>
<rect x="472.37" y="641.90" width="8.20" height="0.80" fill="#ffffff" fill-opacity="0.8"/>
<rect x="472.37" y="577.30" width="8.20" height="0.80" fill="#ffffff" fill-opacity="0.8"/>
<rect x="482.18" y="574.52" width="8.12" height="194.68" fill="#ececec"/>
<rect x="482.98" y="632.40" width="7.02" height="136.80" fill="#e7d0cb"/>
<rect x="482.98" y="582.50" width="7.02" height="49.90" fill="#5b8cb9"/>
<rect x="482.98" y="575.00" width="7.02" height="7.50" fill="#0a336d"/>
<rect x="482.98" y="632.00" width="7.02" height="0.80" fill="#ffffff" fill-opacity="0.8"/>
<rect x="482.98" y="582.10" width="7.02" height="0.80" fill="#ffffff" fill-opacity="0.8"/>
<rect x="586.00" y="570.80" width="12.00" height="50.00" fill="#0a336d"/>
<rect x="586.00" y="651.90" width="59.80" height="49.70" fill="#5b8cb9"/>
<rect x="455.50" y="875.00" width="35.40" height="244.50" fill="#efefef"/>
<rect x="455.50" y="875.00" width="19.70" height="244.50" fill="#e8e8e8"/>
<rect x="476.00" y="875.00" width="14.90" height="244.50" fill="#e1e1e1"/>
<rect x="70.25" y="1116.88" width="10.50" height="2.42" fill="#efefef"/>
<rect x="70.95" y="1117.30" width="9.10" height="2.00" fill="#e6e6e6"/>
<rect x="80.66" y="1116.88" width="10.50" height="2.42" fill="#efefef"/>
<rect x="81.36" y="1117.30" width="9.10" height="2.00" fill="#e6e6e6"/>
<rect x="91.07" y="1117.18" width="10.50" height="2.12" fill="#efefef"/>
<rect x="91.77" y="1117.60" width="9.10" height="1.70" fill="#8058d0"/>
<rect x="101.48" y="1114.88" width="10.50" height="4.42" fill="#efefef"/>
<rect x="102.18" y="1116.90" width="9.10" height="2.40" fill="#8fb1d4"/>
<rect x="102.18" y="1115.30" width="9.10" height="1.60" fill="#e6e6e6"/>
<rect x="102.18" y="1116.72" width="9.10" height="0.36" fill="#ffffff" fill-opacity="0.8"/>
<rect x="111.89" y="1115.58" width="10.50" height="3.72" fill="#efefef"/>
<rect x="112.59" y="1116.00" width="9.10" height="3.30" fill="#e6e6e6"/>
<rect x="122.30" y="1113.68" width="10.50" height="5.62" fill="#efefef"/>
<rect x="123.00" y="1116.90" width="9.10" height="2.40" fill="#8fb1d4"/>
<rect x="123.00" y="1115.00" width="9.10" height="1.90" fill="#8058d0"/>
<rect x="123.00" y="1114.10" width="9.10" height="0.90" fill="#e6e6e6"/>
<rect x="123.00" y="1116.50" width="9.10" height="0.80" fill="#ffffff" fill-opacity="0.8"/>
<rect x="123.00" y="1114.82" width="9.10" height="0.36" fill="#ffffff" fill-opacity="0.8"/>
<rect x="132.71" y="1111.88" width="10.50" height="7.42" fill="#efefef"/>
<rect x="133.41" y="1117.60" width="9.10" height="1.70" fill="#e6e6e6"/>
<rect x="133.41" y="1114.10" width="9.10" height="3.50" fill="#8058d0"/>
<rect x="133.41" y="1112.30" width="9.10" height="1.80" fill="#e6e6e6"/>
<rect x="133.41" y="1117.20" width="9.10" height="0.80" fill="#ffffff" fill-opacity="0.8"/>
<rect x="133.41" y="1113.70" width="9.10" height="0.80" fill="#ffffff" fill-opacity="0.8"/>
<rect x="143.12" y="1102.68" width="10.50" height="16.62" fill="#efefef"/>
<rect x="143.82" y="1117.10" width="9.10" height="2.20" fill="#e6e6e6"/>
<rect x="143.82" y="1113.70" width="9.10" height="3.40" fill="#8fb1d4"/>
<rect x="143.82" y="1108.90" width="9.10" height="4.80" fill="#8058d0"/>
<rect x="143.82" y="1106.10" width="9.10" height="2.80" fill="#6e1b45"/>
<rect x="143.82" y="1103.10" width="9.10" height="3.00" fill="#e6e6e6"/>
<rect x="143.82" y="1116.70" width="9.10" height="0.80" fill="#ffffff" fill-opacity="0.8"/>
<rect x="143.82" y="1113.30" width="9.10" height="0.80" fill="#ffffff" fill-opacity="0.8"/>
<rect x="143.82" y="1108.50" width="9.10" height="0.80" fill="#ffffff" fill-opacity="0.8"/>
<rect x="143.82" y="1105.70" width="9.10" height="0.80" fill="#ffffff" fill-opacity="0.8"/>
<rect x="153.53" y="1107.98" width="10.50" height="11.32" fill="#efefef"/>
<rect x="154.23" y="1117.80" width="9.10" height="1.50" fill="#e6e6e6"/>
<rect x="154.23" y="1115.70" width="9.10" height="2.10" fill="#8fb1d4"/>
<rect x="154.23" y="1110.00" width="9.10" height="5.70" fill="#8058d0"/>
<rect x="154.23" y="1108.40" width="9.10" height="1.60" fill="#e6e6e6"/>
<rect x="154.23" y="1117.62" width="9.10" height="0.36" fill="#ffffff" fill-opacity="0.8"/>
<rect x="154.23" y="1115.30" width="9.10" height="0.80" fill="#ffffff" fill-opacity="0.8"/>
<rect x="154.23" y="1109.60" width="9.10" height="0.80" fill="#ffffff" fill-opacity="0.8"/>
<rect x="163.94" y="1102.68" width="10.50" height="16.62" fill="#efefef"/>
<rect x="164.64" y="1115.70" width="9.10" height="3.60" fill="#8fb1d4"/>
<rect x="164.64" y="1110.70" width="9.10" height="5.00" fill="#8058d0"/>
<rect x="164.64" y="1108.90" width="9.10" height="1.80" fill="#6e1b45"/>
<rect x="164.64" y="1105.30" width="9.10" height="3.60" fill="#e6e6e6"/>
<rect x="164.64" y="1104.30" width="9.10" height="1.00" fill="#f08a24"/>
<rect x="164.64" y="1103.10" width="9.10" height="1.20" fill="#e6e6e6"/>
<rect x="164.64" y="1115.30" width="9.10" height="0.80" fill="#ffffff" fill-opacity="0.8"/>
<rect x="164.64" y="1110.30" width="9.10" height="0.80" fill="#ffffff" fill-opacity="0.8"/>
<rect x="164.64" y="1108.50" width="9.10" height="0.80" fill="#ffffff" fill-opacity="0.8"/>
<rect x="164.64" y="1105.12" width="9.10" height="0.36" fill="#ffffff" fill-opacity="0.8"/>
<rect x="164.64" y="1104.12" width="9.10" height="0.36" fill="#ffffff" fill-opacity="0.8"/>
<rect x="174.35" y="1094.68" width="10.50" height="24.62" fill="#efefef"/>
<rect x="175.05" y="1116.90" width="9.10" height="2.40" fill="#4a78a6"/>
<rect x="175.05" y="1107.90" width="9.10" height="9.00" fill="#8fb1d4"/>
<rect x="175.05" y="1099.90" width="9.10" height="8.00" fill="#8058d0"/>
<rect x="175.05" y="1098.10" width="9.10" height="1.80" fill="#6e1b45"/>
<rect x="175.05" y="1095.10" width="9.10" height="3.00" fill="#e6e6e6"/>
<rect x="175.05" y="1116.50" width="9.10" height="0.80" fill="#ffffff" fill-opacity="0.8"/>
<rect x="175.05" y="1107.50" width="9.10" height="0.80" fill="#ffffff" fill-opacity="0.8"/>
<rect x="175.05" y="1099.50" width="9.10" height="0.80" fill="#ffffff" fill-opacity="0.8"/>
<rect x="175.05" y="1097.70" width="9.10" height="0.80" fill="#ffffff" fill-opacity="0.8"/>
<rect x="184.76" y="1084.68" width="10.50" height="34.62" fill="#efefef"/>
<rect x="185.46" y="1117.10" width="9.10" height="2.20" fill="#4a78a6"/>
<rect x="185.46" y="1107.90" width="9.10" height="9.20" fill="#8fb1d4"/>
<rect x="185.46" y="1094.70" width="9.10" height="13.20" fill="#8058d0"/>
<rect x="185.46" y="1090.10" width="9.10" height="4.60" fill="#6e1b45"/>
<rect x="185.46" y="1087.30" width="9.10" height="2.80" fill="#8bcf7b"/>
<rect x="185.46" y="1085.10" width="9.10" height="2.20" fill="#e6e6e6"/>
<rect x="185.46" y="1116.70" width="9.10" height="0.80" fill="#ffffff" fill-opacity="0.8"/>
<rect x="185.46" y="1107.50" width="9.10" height="0.80" fill="#ffffff" fill-opacity="0.8"/>
<rect x="185.46" y="1094.30" width="9.10" height="0.80" fill="#ffffff" fill-opacity="0.8"/>
<rect x="185.46" y="1089.70" width="9.10" height="0.80" fill="#ffffff" fill-opacity="0.8"/>
<rect x="185.46" y="1086.90" width="9.10" height="0.80" fill="#ffffff" fill-opacity="0.8"/>
<rect x="195.17" y="1094.68" width="10.50" height="24.62" fill="#efefef"/>
<rect x="195.87" y="1113.00" width="9.10" height="6.30" fill="#8fb1d4"/>
<rect x="195.87" y="1098.10" width="9.10" height="14.90" fill="#8058d0"/>
<rect x="195.87" y="1095.10" width="9.10" height="3.00" fill="#e6e6e6"/>
<rect x="195.87" y="1112.60" width="9.10" height="0.80" fill="#ffffff" fill-opacity="0.8"/>
<rect x="195.87" y="1097.70" width="9.10" height="0.80" fill="#ffffff" fill-opacity="0.8"/>
<rect x="205.58" y="1078.58" width="10.50" height="40.72" fill="#efefef"/>
<rect x="206.28" y="1117.70" width="9.10" height="1.60" fill="#6b8e1f"/>
<rect x="206.28" y="1115.10" width="9.10" height="2.60" fill="#4a78a6"/>
<rect x="206.28" y="1105.70" width="9.10" height="9.40" fill="#8fb1d4"/>
<rect x="206.28" y="1089.70" width="9.10" height="16.00" fill="#8058d0"/>
<rect x="206.28" y="1085.10" width="9.10" height="4.60" fill="#6e1b45"/>
<rect x="206.28" y="1082.70" width="9.10" height="2.40" fill="#57a04f"/>
<rect x="206.28" y="1079.00" width="9.10" height="3.70" fill="#e6e6e6"/>
<rect x="206.28" y="1117.52" width="9.10" height="0.36" fill="#ffffff" fill-opacity="0.8"/>
<rect x="206.28" y="1114.70" width="9.10" height="0.80" fill="#ffffff" fill-opacity="0.8"/>
<rect x="206.28" y="1105.30" width="9.10" height="0.80" fill="#ffffff" fill-opacity="0.8"/>
<rect x="206.28" y="1089.30" width="9.10" height="0.80" fill="#ffffff" fill-opacity="0.8"/>
<rect x="206.28" y="1084.70" width="9.10" height="0.80" fill="#ffffff" fill-opacity="0.8"/>
<rect x="206.28" y="1082.30" width="9.10" height="0.80" fill="#ffffff" fill-opacity="0.8"/>
<rect x="215.99" y="1040.58" width="10.50" height="78.72" fill="#efefef"/>
<rect x="216.69" y="1108.70" width="9.10" height="10.60" fill="#6b8e1f"/>
<rect x="216.69" y="1097.70" width="9.10" height="11.00" fill="#4a78a6"/>
<rect x="216.69" y="1080.70" width="9.10" height="17.00" fill="#8fb1d4"/>
<rect x="216.69" y="1060.70" width="9.10" height="20.00" fill="#8058d0"/>
<rect x="216.69" y="1054.00" width="9.10" height="6.70" fill="#6e1b45"/>
<rect x="216.69" y="1052.00" width="9.10" height="2.00" fill="#8bcf7b"/>
<rect x="216.69" y="1046.00" width="9.10" height="6.00" fill="#fbbf7e"/>
<rect x="216.69" y="1043.00" width="9.10" height="3.00" fill="#f08a24"/>
<rect x="216.69" y="1041.00" width="9.10" height="2.00" fill="#e6e6e6"/>
<rect x="216.69" y="1108.30" width="9.10" height="0.80" fill="#ffffff" fill-opacity="0.8"/>
<rect x="216.69" y="1097.30" width="9.10" height="0.80" fill="#ffffff" fill-opacity="0.8"/>
<rect x="216.69" y="1080.30" width="9.10" height="0.80" fill="#ffffff" fill-opacity="0.8"/>
<rect x="216.69" y="1060.30" width="9.10" height="0.80" fill="#ffffff" fill-opacity="0.8"/>
<rect x="216.69" y="1053.60" width="9.10" height="0.80" fill="#ffffff" fill-opacity="0.8"/>
<rect x="216.69" y="1051.60" width="9.10" height="0.80" fill="#ffffff" fill-opacity="0.8"/>
<rect x="216.69" y="1045.60" width="9.10" height="0.80" fill="#ffffff" fill-opacity="0.8"/>
<rect x="216.69" y="1042.60" width="9.10" height="0.80" fill="#ffffff" fill-opacity="0.8"/>
<rect x="226.40" y="1052.58" width="10.50" height="66.72" fill="#efefef"/>
<rect x="227.10" y="1112.50" width="9.10" height="6.80" fill="#6b8e1f"/>
<rect x="227.10" y="1102.70" width="9.10" height="9.80" fill="#4a78a6"/>
<rect x="227.10" y="1092.50" width="9.10" height="10.20" fill="#8fb1d4"/>
<rect x="227.10" y="1069.70" width="9.10" height="22.80" fill="#8058d0"/>
<rect x="227.10" y="1063.00" width="9.10" height="6.70" fill="#6e1b45"/>
<rect x="227.10" y="1060.00" width="9.10" height="3.00" fill="#e6e6e6"/>
<rect x="227.10" y="1056.70" width="9.10" height="3.30" fill="#fbbf7e"/>
<rect x="227.10" y="1055.00" width="9.10" height="1.70" fill="#f08a24"/>
<rect x="227.10" y="1053.00" width="9.10" height="2.00" fill="#e6e6e6"/>
<rect x="227.10" y="1112.10" width="9.10" height="0.80" fill="#ffffff" fill-opacity="0.8"/>
<rect x="227.10" y="1102.30" width="9.10" height="0.80" fill="#ffffff" fill-opacity="0.8"/>
<rect x="227.10" y="1092.10" width="9.10" height="0.80" fill="#ffffff" fill-opacity="0.8"/>
<rect x="227.10" y="1069.30" width="9.10" height="0.80" fill="#ffffff" fill-opacity="0.8"/>
<rect x="227.10" y="1062.60" width="9.10" height="0.80" fill="#ffffff" fill-opacity="0.8"/>
<rect x="227.10" y="1059.60" width="9.10" height="0.80" fill="#ffffff" fill-opacity="0.8"/>
<rect x="227.10" y="1056.30" width="9.10" height="0.80" fill="#ffffff" fill-opacity="0.8"/>
<rect x="227.10" y="1054.60" width="9.10" height="0.80" fill="#ffffff" fill-opacity="0.8"/>
<rect x="236.81" y="1039.58" width="10.50" height="79.72" fill="#efefef"/>
<rect x="237.51" y="1111.70" width="9.10" height="7.60" fill="#6b8e1f"/>
<rect x="237.51" y="1103.70" width="9.10" height="8.00" fill="#4a78a6"/>
<rect x="237.51" y="1091.70" width="9.10" height="12.00" fill="#8fb1d4"/>
<rect x="237.51" y="1060.70" width="9.10" height="31.00" fill="#8058d0"/>
<rect x="237.51" y="1053.00" width="9.10" height="7.70" fill="#6e1b45"/>
<rect x="237.51" y="1050.00" width="9.10" height="3.00" fill="#8bcf7b"/>
<rect x="237.51" y="1047.00" width="9.10" height="3.00" fill="#57a04f"/>
<rect x="237.51" y="1043.00" width="9.10" height="4.00" fill="#fbbf7e"/>
<rect x="237.51" y="1040.00" width="9.10" height="3.00" fill="#e6e6e6"/>
<rect x="237.51" y="1111.30" width="9.10" height="0.80" fill="#ffffff" fill-opacity="0.8"/>
<rect x="237.51" y="1103.30" width="9.10" height="0.80" fill="#ffffff" fill-opacity="0.8"/>
<rect x="237.51" y="1091.30" width="9.10" height="0.80" fill="#ffffff" fill-opacity="0.8"/>
<rect x="237.51" y="1060.30" width="9.10" height="0.80" fill="#ffffff" fill-opacity="0.8"/>
<rect x="237.51" y="1052.60" width="9.10" height="0.80" fill="#ffffff" fill-opacity="0.8"/>
<rect x="237.51" y="1049.60" width="9.10" height="0.80" fill="#ffffff" fill-opacity="0.8"/>
<rect x="237.51" y="1046.60" width="9.10" height="0.80" fill="#ffffff" fill-opacity="0.8"/>
<rect x="237.51" y="1042.60" width="9.10" height="0.80" fill="#ffffff" fill-opacity="0.8"/>
<rect x="247.22" y="1028.58" width="10.50" height="90.72" fill="#efefef"/>
<rect x="247.92" y="1113.70" width="9.10" height="5.60" fill="#6b8e1f"/>
<rect x="247.92" y="1101.70" width="9.10" height="12.00" fill="#4a78a6"/>
<rect x="247.92" y="1080.70" width="9.10" height="21.00" fill="#8fb1d4"/>
<rect x="247.92" y="1050.70" width="9.10" height="30.00" fill="#8058d0"/>
<rect x="247.92" y="1040.00" width="9.10" height="10.70" fill="#6e1b45"/>
<rect x="247.92" y="1034.00" width="9.10" height="6.00" fill="#57a04f"/>
<rect x="247.92" y="1032.00" width="9.10" height="2.00" fill="#fbbf7e"/>
<rect x="247.92" y="1029.00" width="9.10" height="3.00" fill="#e6e6e6"/>
<rect x="247.92" y="1113.30" width="9.10" height="0.80" fill="#ffffff" fill-opacity="0.8"/>
<rect x="247.92" y="1101.30" width="9.10" height="0.80" fill="#ffffff" fill-opacity="0.8"/>
<rect x="247.92" y="1080.30" width="9.10" height="0.80" fill="#ffffff" fill-opacity="0.8"/>
<rect x="247.92" y="1050.30" width="9.10" height="0.80" fill="#ffffff" fill-opacity="0.8"/>
<rect x="247.92" y="1039.60" width="9.10" height="0.80" fill="#ffffff" fill-opacity="0.8"/>
<rect x="247.92" y="1033.60" width="9.10" height="0.80" fill="#ffffff" fill-opacity="0.8"/>
<rect x="247.92" y="1031.60" width="9.10" height="0.80" fill="#ffffff" fill-opacity="0.8"/>
<rect x="257.63" y="1036.58" width="10.50" height="82.72" fill="#efefef"/>
<rect x="258.33" y="1116.70" width="9.10" height="2.60" fill="#6b8e1f"/>
<rect x="258.33" y="1102.70" width="9.10" height="14.00" fill="#4a78a6"/>
<rect x="258.33" y="1084.70" width="9.10" height="18.00" fill="#8fb1d4"/>
<rect x="258.33" y="1058.70" width="9.10" height="26.00" fill="#8058d0"/>
<rect x="258.33" y="1052.00" width="9.10" height="6.70" fill="#6e1b45"/>
<rect x="258.33" y="1047.70" width="9.10" height="4.30" fill="#8bcf7b"/>
<rect x="258.33" y="1044.00" width="9.10" height="3.70" fill="#57a04f"/>
<rect x="258.33" y="1040.40" width="9.10" height="3.60" fill="#fbbf7e"/>
<rect x="258.33" y="1038.00" width="9.10" height="2.40" fill="#a9cfe8"/>
<rect x="258.33" y="1037.00" width="9.10" height="1.00" fill="#e6e6e6"/>
<rect x="258.33" y="1116.30" width="9.10" height="0.80" fill="#ffffff" fill-opacity="0.8"/>
<rect x="258.33" y="1102.30" width="9.10" height="0.80" fill="#ffffff" fill-opacity="0.8"/>
<rect x="258.33" y="1084.30" width="9.10" height="0.80" fill="#ffffff" fill-opacity="0.8"/>
<rect x="258.33" y="1058.30" width="9.10" height="0.80" fill="#ffffff" fill-opacity="0.8"/>
<rect x="258.33" y="1051.60" width="9.10" height="0.80" fill="#ffffff" fill-opacity="0.8"/>
<rect x="258.33" y="1047.30" width="9.10" height="0.80" fill="#ffffff" fill-opacity="0.8"/>
<rect x="258.33" y="1043.60" width="9.10" height="0.80" fill="#ffffff" fill-opacity="0.8"/>
<rect x="258.33" y="1040.00" width="9.10" height="0.80" fill="#ffffff" fill-opacity="0.8"/>
<rect x="258.33" y="1037.82" width="9.10" height="0.36" fill="#ffffff" fill-opacity="0.8"/>
<rect x="268.04" y="1043.28" width="10.50" height="76.02" fill="#efefef"/>
<rect x="268.74" y="1113.50" width="9.10" height="5.80" fill="#6b8e1f"/>
<rect x="268.74" y="1105.70" width="9.10" height="7.80" fill="#4a78a6"/>
<rect x="268.74" y="1086.70" width="9.10" height="19.00" fill="#8fb1d4"/>
<rect x="268.74" y="1061.70" width="9.10" height="25.00" fill="#8058d0"/>
<rect x="268.74" y="1054.00" width="9.10" height="7.70" fill="#6e1b45"/>
<rect x="268.74" y="1051.70" width="9.10" height="2.30" fill="#8bcf7b"/>
<rect x="268.74" y="1049.00" width="9.10" height="2.70" fill="#57a04f"/>
<rect x="268.74" y="1046.70" width="9.10" height="2.30" fill="#fbbf7e"/>
<rect x="268.74" y="1044.40" width="9.10" height="2.30" fill="#f08a24"/>
<rect x="268.74" y="1043.70" width="9.10" height="0.70" fill="#e6e6e6"/>
<rect x="268.74" y="1113.10" width="9.10" height="0.80" fill="#ffffff" fill-opacity="0.8"/>
<rect x="268.74" y="1105.30" width="9.10" height="0.80" fill="#ffffff" fill-opacity="0.8"/>
<rect x="268.74" y="1086.30" width="9.10" height="0.80" fill="#ffffff" fill-opacity="0.8"/>
<rect x="268.74" y="1061.30" width="9.10" height="0.80" fill="#ffffff" fill-opacity="0.8"/>
<rect x="268.74" y="1053.60" width="9.10" height="0.80" fill="#ffffff" fill-opacity="0.8"/>
<rect x="268.74" y="1051.30" width="9.10" height="0.80" fill="#ffffff" fill-opacity="0.8"/>
<rect x="268.74" y="1048.60" width="9.10" height="0.80" fill="#ffffff" fill-opacity="0.8"/>
<rect x="268.74" y="1046.30" width="9.10" height="0.80" fill="#ffffff" fill-opacity="0.8"/>
<rect x="268.74" y="1044.22" width="9.10" height="0.36" fill="#ffffff" fill-opacity="0.8"/>
<rect x="278.45" y="1070.28" width="10.50" height="49.02" fill="#efefef"/>
<rect x="279.15" y="1116.70" width="9.10" height="2.60" fill="#6b8e1f"/>
<rect x="279.15" y="1111.10" width="9.10" height="5.60" fill="#4a78a6"/>
<rect x="279.15" y="1097.70" width="9.10" height="13.40" fill="#8fb1d4"/>
<rect x="279.15" y="1080.70" width="9.10" height="17.00" fill="#8058d0"/>
<rect x="279.15" y="1078.00" width="9.10" height="2.70" fill="#6e1b45"/>
<rect x="279.15" y="1076.20" width="9.10" height="1.80" fill="#8bcf7b"/>
<rect x="279.15" y="1074.40" width="9.10" height="1.80" fill="#57a04f"/>
<rect x="279.15" y="1071.70" width="9.10" height="2.70" fill="#f08a24"/>
<rect x="279.15" y="1070.70" width="9.10" height="1.00" fill="#e6e6e6"/>
<rect x="279.15" y="1116.30" width="9.10" height="0.80" fill="#ffffff" fill-opacity="0.8"/>
<rect x="279.15" y="1110.70" width="9.10" height="0.80" fill="#ffffff" fill-opacity="0.8"/>
<rect x="279.15" y="1097.30" width="9.10" height="0.80" fill="#ffffff" fill-opacity="0.8"/>
<rect x="279.15" y="1080.30" width="9.10" height="0.80" fill="#ffffff" fill-opacity="0.8"/>
<rect x="279.15" y="1077.60" width="9.10" height="0.80" fill="#ffffff" fill-opacity="0.8"/>
<rect x="279.15" y="1075.80" width="9.10" height="0.80" fill="#ffffff" fill-opacity="0.8"/>
<rect x="279.15" y="1074.00" width="9.10" height="0.80" fill="#ffffff" fill-opacity="0.8"/>
<rect x="279.15" y="1071.52" width="9.10" height="0.36" fill="#ffffff" fill-opacity="0.8"/>
<rect x="288.86" y="1075.58" width="10.50" height="43.72" fill="#efefef"/>
<rect x="289.56" y="1117.70" width="9.10" height="1.60" fill="#e6e6e6"/>
<rect x="289.56" y="1115.70" width="9.10" height="2.00" fill="#4a78a6"/>
<rect x="289.56" y="1105.70" width="9.10" height="10.00" fill="#8fb1d4"/>
<rect x="289.56" y="1089.70" width="9.10" height="16.00" fill="#8058d0"/>
<rect x="289.56" y="1084.10" width="9.10" height="5.60" fill="#6e1b45"/>
<rect x="289.56" y="1080.70" width="9.10" height="3.40" fill="#57a04f"/>
<rect x="289.56" y="1077.70" width="9.10" height="3.00" fill="#f08a24"/>
<rect x="289.56" y="1076.00" width="9.10" height="1.70" fill="#e6e6e6"/>
<rect x="289.56" y="1117.52" width="9.10" height="0.36" fill="#ffffff" fill-opacity="0.8"/>
<rect x="289.56" y="1115.30" width="9.10" height="0.80" fill="#ffffff" fill-opacity="0.8"/>
<rect x="289.56" y="1105.30" width="9.10" height="0.80" fill="#ffffff" fill-opacity="0.8"/>
<rect x="289.56" y="1089.30" width="9.10" height="0.80" fill="#ffffff" fill-opacity="0.8"/>
<rect x="289.56" y="1083.70" width="9.10" height="0.80" fill="#ffffff" fill-opacity="0.8"/>
<rect x="289.56" y="1080.30" width="9.10" height="0.80" fill="#ffffff" fill-opacity="0.8"/>
<rect x="289.56" y="1077.30" width="9.10" height="0.80" fill="#ffffff" fill-opacity="0.8"/>
<rect x="299.27" y="1082.68" width="10.50" height="36.62" fill="#efefef"/>
<rect x="299.97" y="1117.10" width="9.10" height="2.20" fill="#6b8e1f"/>
<rect x="299.97" y="1113.10" width="9.10" height="4.00" fill="#4a78a6"/>
<rect x="299.97" y="1108.70" width="9.10" height="4.40" fill="#8fb1d4"/>
<rect x="299.97" y="1096.10" width="9.10" height="12.60" fill="#8058d0"/>
<rect x="299.97" y="1091.70" width="9.10" height="4.40" fill="#6e1b45"/>
<rect x="299.97" y="1085.70" width="9.10" height="6.00" fill="#57a04f"/>
<rect x="299.97" y="1083.10" width="9.10" height="2.60" fill="#e6e6e6"/>
<rect x="299.97" y="1116.70" width="9.10" height="0.80" fill="#ffffff" fill-opacity="0.8"/>
<rect x="299.97" y="1112.70" width="9.10" height="0.80" fill="#ffffff" fill-opacity="0.8"/>
<rect x="299.97" y="1108.30" width="9.10" height="0.80" fill="#ffffff" fill-opacity="0.8"/>
<rect x="299.97" y="1095.70" width="9.10" height="0.80" fill="#ffffff" fill-opacity="0.8"/>
<rect x="299.97" y="1091.30" width="9.10" height="0.80" fill="#ffffff" fill-opacity="0.8"/>
<rect x="299.97" y="1085.30" width="9.10" height="0.80" fill="#ffffff" fill-opacity="0.8"/>
<rect x="309.68" y="1088.68" width="10.50" height="30.62" fill="#efefef"/>
<rect x="310.38" y="1117.70" width="9.10" height="1.60" fill="#6b8e1f"/>
<rect x="310.38" y="1105.70" width="9.10" height="12.00" fill="#8fb1d4"/>
<rect x="310.38" y="1096.10" width="9.10" height="9.60" fill="#8058d0"/>
<rect x="310.38" y="1094.50" width="9.10" height="1.60" fill="#6e1b45"/>
<rect x="310.38" y="1092.50" width="9.10" height="2.00" fill="#8bcf7b"/>
<rect x="310.38" y="1090.50" width="9.10" height="2.00" fill="#fbbf7e"/>
<rect x="310.38" y="1089.10" width="9.10" height="1.40" fill="#e6e6e6"/>
<rect x="310.38" y="1117.52" width="9.10" height="0.36" fill="#ffffff" fill-opacity="0.8"/>
<rect x="310.38" y="1105.30" width="9.10" height="0.80" fill="#ffffff" fill-opacity="0.8"/>
<rect x="310.38" y="1095.92" width="9.10" height="0.36" fill="#ffffff" fill-opacity="0.8"/>
<rect x="310.38" y="1094.32" width="9.10" height="0.36" fill="#ffffff" fill-opacity="0.8"/>
<rect x="310.38" y="1092.10" width="9.10" height="0.80" fill="#ffffff" fill-opacity="0.8"/>
<rect x="310.38" y="1090.32" width="9.10" height="0.36" fill="#ffffff" fill-opacity="0.8"/>
<rect x="320.09" y="1088.68" width="10.50" height="30.62" fill="#efefef"/>
<rect x="320.79" y="1117.10" width="9.10" height="2.20" fill="#6b8e1f"/>
<rect x="320.79" y="1113.70" width="9.10" height="3.40" fill="#4a78a6"/>
<rect x="320.79" y="1107.10" width="9.10" height="6.60" fill="#8fb1d4"/>
<rect x="320.79" y="1096.10" width="9.10" height="11.00" fill="#8058d0"/>
<rect x="320.79" y="1094.50" width="9.10" height="1.60" fill="#6e1b45"/>
<rect x="320.79" y="1092.70" width="9.10" height="1.80" fill="#8bcf7b"/>
<rect x="320.79" y="1089.10" width="9.10" height="3.60" fill="#e6e6e6"/>
<rect x="320.79" y="1116.70" width="9.10" height="0.80" fill="#ffffff" fill-opacity="0.8"/>
<rect x="320.79" y="1113.30" width="9.10" height="0.80" fill="#ffffff" fill-opacity="0.8"/>
<rect x="320.79" y="1106.70" width="9.10" height="0.80" fill="#ffffff" fill-opacity="0.8"/>
<rect x="320.79" y="1095.92" width="9.10" height="0.36" fill="#ffffff" fill-opacity="0.8"/>
<rect x="320.79" y="1094.32" width="9.10" height="0.36" fill="#ffffff" fill-opacity="0.8"/>
<rect x="320.79" y="1092.30" width="9.10" height="0.80" fill="#ffffff" fill-opacity="0.8"/>
<rect x="330.50" y="1096.68" width="10.50" height="22.62" fill="#efefef"/>
<rect x="331.20" y="1116.70" width="9.10" height="2.60" fill="#4a78a6"/>
<rect x="331.20" y="1110.10" width="9.10" height="6.60" fill="#8fb1d4"/>
<rect x="331.20" y="1101.70" width="9.10" height="8.40" fill="#8058d0"/>
<rect x="331.20" y="1099.70" width="9.10" height="2.00" fill="#6e1b45"/>
<rect x="331.20" y="1097.10" width="9.10" height="2.60" fill="#e6e6e6"/>
<rect x="331.20" y="1116.30" width="9.10" height="0.80" fill="#ffffff" fill-opacity="0.8"/>
<rect x="331.20" y="1109.70" width="9.10" height="0.80" fill="#ffffff" fill-opacity="0.8"/>
<rect x="331.20" y="1101.30" width="9.10" height="0.80" fill="#ffffff" fill-opacity="0.8"/>
<rect x="331.20" y="1099.30" width="9.10" height="0.80" fill="#ffffff" fill-opacity="0.8"/>
<rect x="340.91" y="1081.68" width="10.50" height="37.62" fill="#efefef"/>
<rect x="341.61" y="1117.70" width="9.10" height="1.60" fill="#6b8e1f"/>
<rect x="341.61" y="1111.00" width="9.10" height="6.70" fill="#4a78a6"/>
<rect x="341.61" y="1104.50" width="9.10" height="6.50" fill="#8fb1d4"/>
<rect x="341.61" y="1089.90" width="9.10" height="14.60" fill="#8058d0"/>
<rect x="341.61" y="1086.90" width="9.10" height="3.00" fill="#6e1b45"/>
<rect x="341.61" y="1083.90" width="9.10" height="3.00" fill="#57a04f"/>
<rect x="341.61" y="1082.10" width="9.10" height="1.80" fill="#e6e6e6"/>
<rect x="341.61" y="1117.52" width="9.10" height="0.36" fill="#ffffff" fill-opacity="0.8"/>
<rect x="341.61" y="1110.60" width="9.10" height="0.80" fill="#ffffff" fill-opacity="0.8"/>
<rect x="341.61" y="1104.10" width="9.10" height="0.80" fill="#ffffff" fill-opacity="0.8"/>
<rect x="341.61" y="1089.50" width="9.10" height="0.80" fill="#ffffff" fill-opacity="0.8"/>
<rect x="341.61" y="1086.50" width="9.10" height="0.80" fill="#ffffff" fill-opacity="0.8"/>
<rect x="341.61" y="1083.50" width="9.10" height="0.80" fill="#ffffff" fill-opacity="0.8"/>
<rect x="351.32" y="1080.88" width="10.50" height="38.42" fill="#efefef"/>
<rect x="352.02" y="1117.70" width="9.10" height="1.60" fill="#6b8e1f"/>
<rect x="352.02" y="1115.70" width="9.10" height="2.00" fill="#4a78a6"/>
<rect x="352.02" y="1105.70" width="9.10" height="10.00" fill="#8fb1d4"/>
<rect x="352.02" y="1091.70" width="9.10" height="14.00" fill="#8058d0"/>
<rect x="352.02" y="1089.90" width="9.10" height="1.80" fill="#6e1b45"/>
<rect x="352.02" y="1085.90" width="9.10" height="4.00" fill="#8bcf7b"/>
<rect x="352.02" y="1082.50" width="9.10" height="3.40" fill="#fbbf7e"/>
<rect x="352.02" y="1081.30" width="9.10" height="1.20" fill="#e6e6e6"/>
<rect x="352.02" y="1117.52" width="9.10" height="0.36" fill="#ffffff" fill-opacity="0.8"/>
<rect x="352.02" y="1115.30" width="9.10" height="0.80" fill="#ffffff" fill-opacity="0.8"/>
<rect x="352.02" y="1105.30" width="9.10" height="0.80" fill="#ffffff" fill-opacity="0.8"/>
<rect x="352.02" y="1091.30" width="9.10" height="0.80" fill="#ffffff" fill-opacity="0.8"/>
<rect x="352.02" y="1089.50" width="9.10" height="0.80" fill="#ffffff" fill-opacity="0.8"/>
<rect x="352.02" y="1085.50" width="9.10" height="0.80" fill="#ffffff" fill-opacity="0.8"/>
<rect x="352.02" y="1082.32" width="9.10" height="0.36" fill="#ffffff" fill-opacity="0.8"/>
<rect x="361.73" y="1029.88" width="10.50" height="89.42" fill="#efefef"/>
<rect x="362.43" y="1112.70" width="9.10" height="6.60" fill="#6b8e1f"/>
<rect x="362.43" y="1097.70" width="9.10" height="15.00" fill="#4a78a6"/>
<rect x="362.43" y="1086.70" width="9.10" height="11.00" fill="#8fb1d4"/>
<rect x="362.43" y="1057.70" width="9.10" height="29.00" fill="#8058d0"/>
<rect x="362.43" y="1043.90" width="9.10" height="13.80" fill="#6e1b45"/>
<rect x="362.43" y="1039.70" width="9.10" height="4.20" fill="#8bcf7b"/>
<rect x="362.43" y="1034.90" width="9.10" height="4.80" fill="#57a04f"/>
<rect x="362.43" y="1032.90" width="9.10" height="2.00" fill="#fbbf7e"/>
<rect x="362.43" y="1030.30" width="9.10" height="2.60" fill="#e6e6e6"/>
<rect x="362.43" y="1112.30" width="9.10" height="0.80" fill="#ffffff" fill-opacity="0.8"/>
<rect x="362.43" y="1097.30" width="9.10" height="0.80" fill="#ffffff" fill-opacity="0.8"/>
<rect x="362.43" y="1086.30" width="9.10" height="0.80" fill="#ffffff" fill-opacity="0.8"/>
<rect x="362.43" y="1057.30" width="9.10" height="0.80" fill="#ffffff" fill-opacity="0.8"/>
<rect x="362.43" y="1043.50" width="9.10" height="0.80" fill="#ffffff" fill-opacity="0.8"/>
<rect x="362.43" y="1039.30" width="9.10" height="0.80" fill="#ffffff" fill-opacity="0.8"/>
<rect x="362.43" y="1034.50" width="9.10" height="0.80" fill="#ffffff" fill-opacity="0.8"/>
<rect x="362.43" y="1032.50" width="9.10" height="0.80" fill="#ffffff" fill-opacity="0.8"/>
<rect x="372.14" y="1012.68" width="10.50" height="106.62" fill="#efefef"/>
<rect x="372.84" y="1115.70" width="9.10" height="3.60" fill="#6b8e1f"/>
<rect x="372.84" y="1103.70" width="9.10" height="12.00" fill="#4a78a6"/>
<rect x="372.84" y="1080.40" width="9.10" height="23.30" fill="#8fb1d4"/>
<rect x="372.84" y="1041.70" width="9.10" height="38.70" fill="#8058d0"/>
<rect x="372.84" y="1023.70" width="9.10" height="18.00" fill="#6e1b45"/>
<rect x="372.84" y="1017.70" width="9.10" height="6.00" fill="#8bcf7b"/>
<rect x="372.84" y="1014.90" width="9.10" height="2.80" fill="#57a04f"/>
<rect x="372.84" y="1013.10" width="9.10" height="1.80" fill="#e6e6e6"/>
<rect x="372.84" y="1115.30" width="9.10" height="0.80" fill="#ffffff" fill-opacity="0.8"/>
<rect x="372.84" y="1103.30" width="9.10" height="0.80" fill="#ffffff" fill-opacity="0.8"/>
<rect x="372.84" y="1080.00" width="9.10" height="0.80" fill="#ffffff" fill-opacity="0.8"/>
<rect x="372.84" y="1041.30" width="9.10" height="0.80" fill="#ffffff" fill-opacity="0.8"/>
<rect x="372.84" y="1023.30" width="9.10" height="0.80" fill="#ffffff" fill-opacity="0.8"/>
<rect x="372.84" y="1017.30" width="9.10" height="0.80" fill="#ffffff" fill-opacity="0.8"/>
<rect x="372.84" y="1014.50" width="9.10" height="0.80" fill="#ffffff" fill-opacity="0.8"/>
<rect x="382.55" y="996.78" width="10.50" height="122.52" fill="#efefef"/>
<rect x="383.25" y="1111.30" width="9.10" height="8.00" fill="#6b8e1f"/>
<rect x="383.25" y="1101.50" width="9.10" height="9.80" fill="#4a78a6"/>
<rect x="383.25" y="1069.70" width="9.10" height="31.80" fill="#8fb1d4"/>
<rect x="383.25" y="1024.70" width="9.10" height="45.00" fill="#8058d0"/>
<rect x="383.25" y="1012.70" width="9.10" height="12.00" fill="#6e1b45"/>
<rect x="383.25" y="1010.40" width="9.10" height="2.30" fill="#8bcf7b"/>
<rect x="383.25" y="1003.70" width="9.10" height="6.70" fill="#57a04f"/>
<rect x="383.25" y="1000.70" width="9.10" height="3.00" fill="#fbbf7e"/>
<rect x="383.25" y="998.90" width="9.10" height="1.80" fill="#f08a24"/>
<rect x="383.25" y="997.20" width="9.10" height="1.70" fill="#e6e6e6"/>
<rect x="383.25" y="1110.90" width="9.10" height="0.80" fill="#ffffff" fill-opacity="0.8"/>
<rect x="383.25" y="1101.10" width="9.10" height="0.80" fill="#ffffff" fill-opacity="0.8"/>
<rect x="383.25" y="1069.30" width="9.10" height="0.80" fill="#ffffff" fill-opacity="0.8"/>
<rect x="383.25" y="1024.30" width="9.10" height="0.80" fill="#ffffff" fill-opacity="0.8"/>
<rect x="383.25" y="1012.30" width="9.10" height="0.80" fill="#ffffff" fill-opacity="0.8"/>
<rect x="383.25" y="1010.00" width="9.10" height="0.80" fill="#ffffff" fill-opacity="0.8"/>
<rect x="383.25" y="1003.30" width="9.10" height="0.80" fill="#ffffff" fill-opacity="0.8"/>
<rect x="383.25" y="1000.30" width="9.10" height="0.80" fill="#ffffff" fill-opacity="0.8"/>
<rect x="383.25" y="998.50" width="9.10" height="0.80" fill="#ffffff" fill-opacity="0.8"/>
<rect x="392.96" y="971.48" width="10.50" height="147.82" fill="#efefef"/>
<rect x="393.66" y="1103.70" width="9.10" height="15.60" fill="#6b8e1f"/>
<rect x="393.66" y="1087.70" width="9.10" height="16.00" fill="#4a78a6"/>
<rect x="393.66" y="1049.50" width="9.10" height="38.20" fill="#8fb1d4"/>
<rect x="393.66" y="1005.70" width="9.10" height="43.80" fill="#8058d0"/>
<rect x="393.66" y="990.70" width="9.10" height="15.00" fill="#6e1b45"/>
<rect x="393.66" y="982.70" width="9.10" height="8.00" fill="#8bcf7b"/>
<rect x="393.66" y="977.90" width="9.10" height="4.80" fill="#57a04f"/>
<rect x="393.66" y="974.80" width="9.10" height="3.10" fill="#fbbf7e"/>
<rect x="393.66" y="971.90" width="9.10" height="2.90" fill="#e6e6e6"/>
<rect x="393.66" y="1103.30" width="9.10" height="0.80" fill="#ffffff" fill-opacity="0.8"/>
<rect x="393.66" y="1087.30" width="9.10" height="0.80" fill="#ffffff" fill-opacity="0.8"/>
<rect x="393.66" y="1049.10" width="9.10" height="0.80" fill="#ffffff" fill-opacity="0.8"/>
<rect x="393.66" y="1005.30" width="9.10" height="0.80" fill="#ffffff" fill-opacity="0.8"/>
<rect x="393.66" y="990.30" width="9.10" height="0.80" fill="#ffffff" fill-opacity="0.8"/>
<rect x="393.66" y="982.30" width="9.10" height="0.80" fill="#ffffff" fill-opacity="0.8"/>
<rect x="393.66" y="977.50" width="9.10" height="0.80" fill="#ffffff" fill-opacity="0.8"/>
<rect x="393.66" y="974.40" width="9.10" height="0.80" fill="#ffffff" fill-opacity="0.8"/>
<rect x="403.37" y="980.38" width="10.50" height="138.92" fill="#efefef"/>
<rect x="404.07" y="1099.30" width="9.10" height="20.00" fill="#6b8e1f"/>
<rect x="404.07" y="1088.70" width="9.10" height="10.60" fill="#4a78a6"/>
<rect x="404.07" y="1056.40" width="9.10" height="32.30" fill="#8fb1d4"/>
<rect x="404.07" y="1009.70" width="9.10" height="46.70" fill="#8058d0"/>
<rect x="404.07" y="994.90" width="9.10" height="14.80" fill="#6e1b45"/>
<rect x="404.07" y="986.90" width="9.10" height="8.00" fill="#57a04f"/>
<rect x="404.07" y="983.40" width="9.10" height="3.50" fill="#fbbf7e"/>
<rect x="404.07" y="981.70" width="9.10" height="1.70" fill="#f08a24"/>
<rect x="404.07" y="980.80" width="9.10" height="0.90" fill="#e6e6e6"/>
<rect x="404.07" y="1098.90" width="9.10" height="0.80" fill="#ffffff" fill-opacity="0.8"/>
<rect x="404.07" y="1088.30" width="9.10" height="0.80" fill="#ffffff" fill-opacity="0.8"/>
<rect x="404.07" y="1056.00" width="9.10" height="0.80" fill="#ffffff" fill-opacity="0.8"/>
<rect x="404.07" y="1009.30" width="9.10" height="0.80" fill="#ffffff" fill-opacity="0.8"/>
<rect x="404.07" y="994.50" width="9.10" height="0.80" fill="#ffffff" fill-opacity="0.8"/>
<rect x="404.07" y="986.50" width="9.10" height="0.80" fill="#ffffff" fill-opacity="0.8"/>
<rect x="404.07" y="983.00" width="9.10" height="0.80" fill="#ffffff" fill-opacity="0.8"/>
<rect x="404.07" y="981.52" width="9.10" height="0.36" fill="#ffffff" fill-opacity="0.8"/>
<rect x="413.78" y="1031.58" width="10.50" height="87.72" fill="#efefef"/>
<rect x="414.48" y="1116.50" width="9.10" height="2.80" fill="#6b8e1f"/>
<rect x="414.48" y="1107.50" width="9.10" height="9.00" fill="#4a78a6"/>
<rect x="414.48" y="1087.30" width="9.10" height="20.20" fill="#8fb1d4"/>
<rect x="414.48" y="1056.70" width="9.10" height="30.60" fill="#8058d0"/>
<rect x="414.48" y="1041.70" width="9.10" height="15.00" fill="#6e1b45"/>
<rect x="414.48" y="1040.10" width="9.10" height="1.60" fill="#e6e6e6"/>
<rect x="414.48" y="1036.70" width="9.10" height="3.40" fill="#fbbf7e"/>
<rect x="414.48" y="1035.30" width="9.10" height="1.40" fill="#e6e6e6"/>
<rect x="414.48" y="1032.90" width="9.10" height="2.40" fill="#a9cfe8"/>
<rect x="414.48" y="1032.00" width="9.10" height="0.90" fill="#e6e6e6"/>
<rect x="414.48" y="1116.10" width="9.10" height="0.80" fill="#ffffff" fill-opacity="0.8"/>
<rect x="414.48" y="1107.10" width="9.10" height="0.80" fill="#ffffff" fill-opacity="0.8"/>
<rect x="414.48" y="1086.90" width="9.10" height="0.80" fill="#ffffff" fill-opacity="0.8"/>
<rect x="414.48" y="1056.30" width="9.10" height="0.80" fill="#ffffff" fill-opacity="0.8"/>
<rect x="414.48" y="1041.52" width="9.10" height="0.36" fill="#ffffff" fill-opacity="0.8"/>
<rect x="414.48" y="1039.92" width="9.10" height="0.36" fill="#ffffff" fill-opacity="0.8"/>
<rect x="414.48" y="1036.52" width="9.10" height="0.36" fill="#ffffff" fill-opacity="0.8"/>
<rect x="414.48" y="1035.12" width="9.10" height="0.36" fill="#ffffff" fill-opacity="0.8"/>
<rect x="414.48" y="1032.72" width="9.10" height="0.36" fill="#ffffff" fill-opacity="0.8"/>
<rect x="424.19" y="1001.58" width="10.50" height="117.72" fill="#efefef"/>
<rect x="424.89" y="1113.50" width="9.10" height="5.80" fill="#6b8e1f"/>
<rect x="424.89" y="1103.70" width="9.10" height="9.80" fill="#4a78a6"/>
<rect x="424.89" y="1076.50" width="9.10" height="27.20" fill="#8fb1d4"/>
<rect x="424.89" y="1030.70" width="9.10" height="45.80" fill="#8058d0"/>
<rect x="424.89" y="1017.70" width="9.10" height="13.00" fill="#6e1b45"/>
<rect x="424.89" y="1013.50" width="9.10" height="4.20" fill="#8bcf7b"/>
<rect x="424.89" y="1009.70" width="9.10" height="3.80" fill="#57a04f"/>
<rect x="424.89" y="1005.70" width="9.10" height="4.00" fill="#fbbf7e"/>
<rect x="424.89" y="1003.70" width="9.10" height="2.00" fill="#f08a24"/>
<rect x="424.89" y="1002.00" width="9.10" height="1.70" fill="#e6e6e6"/>
<rect x="424.89" y="1113.10" width="9.10" height="0.80" fill="#ffffff" fill-opacity="0.8"/>
<rect x="424.89" y="1103.30" width="9.10" height="0.80" fill="#ffffff" fill-opacity="0.8"/>
<rect x="424.89" y="1076.10" width="9.10" height="0.80" fill="#ffffff" fill-opacity="0.8"/>
<rect x="424.89" y="1030.30" width="9.10" height="0.80" fill="#ffffff" fill-opacity="0.8"/>
<rect x="424.89" y="1017.30" width="9.10" height="0.80" fill="#ffffff" fill-opacity="0.8"/>
<rect x="424.89" y="1013.10" width="9.10" height="0.80" fill="#ffffff" fill-opacity="0.8"/>
<rect x="424.89" y="1009.30" width="9.10" height="0.80" fill="#ffffff" fill-opacity="0.8"/>
<rect x="424.89" y="1005.30" width="9.10" height="0.80" fill="#ffffff" fill-opacity="0.8"/>
<rect x="424.89" y="1003.30" width="9.10" height="0.80" fill="#ffffff" fill-opacity="0.8"/>
<rect x="434.60" y="983.88" width="10.50" height="135.42" fill="#efefef"/>
<rect x="435.30" y="1110.50" width="9.10" height="8.80" fill="#6b8e1f"/>
<rect x="435.30" y="1102.70" width="9.10" height="7.80" fill="#4a78a6"/>
<rect x="435.30" y="1068.40" width="9.10" height="34.30" fill="#8fb1d4"/>
<rect x="435.30" y="1020.30" width="9.10" height="48.10" fill="#8058d0"/>
<rect x="435.30" y="1005.70" width="9.10" height="14.60" fill="#6e1b45"/>
<rect x="435.30" y="998.50" width="9.10" height="7.20" fill="#8bcf7b"/>
<rect x="435.30" y="988.70" width="9.10" height="9.80" fill="#57a04f"/>
<rect x="435.30" y="985.70" width="9.10" height="3.00" fill="#f08a24"/>
<rect x="435.30" y="984.30" width="9.10" height="1.40" fill="#e6e6e6"/>
<rect x="435.30" y="1110.10" width="9.10" height="0.80" fill="#ffffff" fill-opacity="0.8"/>
<rect x="435.30" y="1102.30" width="9.10" height="0.80" fill="#ffffff" fill-opacity="0.8"/>
<rect x="435.30" y="1068.00" width="9.10" height="0.80" fill="#ffffff" fill-opacity="0.8"/>
<rect x="435.30" y="1019.90" width="9.10" height="0.80" fill="#ffffff" fill-opacity="0.8"/>
<rect x="435.30" y="1005.30" width="9.10" height="0.80" fill="#ffffff" fill-opacity="0.8"/>
<rect x="435.30" y="998.10" width="9.10" height="0.80" fill="#ffffff" fill-opacity="0.8"/>
<rect x="435.30" y="988.30" width="9.10" height="0.80" fill="#ffffff" fill-opacity="0.8"/>
<rect x="435.30" y="985.52" width="9.10" height="0.36" fill="#ffffff" fill-opacity="0.8"/>
<rect x="445.01" y="960.88" width="10.50" height="158.42" fill="#efefef"/>
<rect x="445.71" y="1110.40" width="9.10" height="8.90" fill="#6b8e1f"/>
<rect x="445.71" y="1095.70" width="9.10" height="14.70" fill="#4a78a6"/>
<rect x="445.71" y="1055.40" width="9.10" height="40.30" fill="#8fb1d4"/>
<rect x="445.71" y="1000.80" width="9.10" height="54.60" fill="#8058d0"/>
<rect x="445.71" y="980.90" width="9.10" height="19.90" fill="#6e1b45"/>
<rect x="445.71" y="973.50" width="9.10" height="7.40" fill="#8bcf7b"/>
<rect x="445.71" y="966.90" width="9.10" height="6.60" fill="#57a04f"/>
<rect x="445.71" y="963.90" width="9.10" height="3.00" fill="#fbbf7e"/>
<rect x="445.71" y="961.30" width="9.10" height="2.60" fill="#e6e6e6"/>
<rect x="445.71" y="1110.00" width="9.10" height="0.80" fill="#ffffff" fill-opacity="0.8"/>
<rect x="445.71" y="1095.30" width="9.10" height="0.80" fill="#ffffff" fill-opacity="0.8"/>
<rect x="445.71" y="1055.00" width="9.10" height="0.80" fill="#ffffff" fill-opacity="0.8"/>
<rect x="445.71" y="1000.40" width="9.10" height="0.80" fill="#ffffff" fill-opacity="0.8"/>
<rect x="445.71" y="980.50" width="9.10" height="0.80" fill="#ffffff" fill-opacity="0.8"/>
<rect x="445.71" y="973.10" width="9.10" height="0.80" fill="#ffffff" fill-opacity="0.8"/>
<rect x="445.71" y="966.50" width="9.10" height="0.80" fill="#ffffff" fill-opacity="0.8"/>
<rect x="445.71" y="963.50" width="9.10" height="0.80" fill="#ffffff" fill-opacity="0.8"/>
<rect x="455.42" y="874.78" width="10.50" height="244.52" fill="#efefef"/>
<rect x="456.12" y="1101.70" width="9.10" height="17.60" fill="#6b8e1f"/>
<rect x="456.12" y="1079.70" width="9.10" height="22.00" fill="#4a78a6"/>
<rect x="456.12" y="1025.50" width="9.10" height="54.20" fill="#8fb1d4"/>
<rect x="456.12" y="933.70" width="9.10" height="91.80" fill="#8058d0"/>
<rect x="456.12" y="902.70" width="9.10" height="31.00" fill="#6e1b45"/>
<rect x="456.12" y="892.50" width="9.10" height="10.20" fill="#8bcf7b"/>
<rect x="456.12" y="885.10" width="9.10" height="7.40" fill="#57a04f"/>
<rect x="456.12" y="879.00" width="9.10" height="6.10" fill="#fbbf7e"/>
<rect x="456.12" y="876.40" width="9.10" height="2.60" fill="#a9cfe8"/>
<rect x="456.12" y="875.20" width="9.10" height="1.20" fill="#e6e6e6"/>
<rect x="456.12" y="1101.30" width="9.10" height="0.80" fill="#ffffff" fill-opacity="0.8"/>
<rect x="456.12" y="1079.30" width="9.10" height="0.80" fill="#ffffff" fill-opacity="0.8"/>
<rect x="456.12" y="1025.10" width="9.10" height="0.80" fill="#ffffff" fill-opacity="0.8"/>
<rect x="456.12" y="933.30" width="9.10" height="0.80" fill="#ffffff" fill-opacity="0.8"/>
<rect x="456.12" y="902.30" width="9.10" height="0.80" fill="#ffffff" fill-opacity="0.8"/>
<rect x="456.12" y="892.10" width="9.10" height="0.80" fill="#ffffff" fill-opacity="0.8"/>
<rect x="456.12" y="884.70" width="9.10" height="0.80" fill="#ffffff" fill-opacity="0.8"/>
<rect x="456.12" y="878.60" width="9.10" height="0.80" fill="#ffffff" fill-opacity="0.8"/>
<rect x="456.12" y="876.22" width="9.10" height="0.36" fill="#ffffff" fill-opacity="0.8"/>
<rect x="465.83" y="885.28" width="9.47" height="234.02" fill="#efefef"/>
<rect x="466.53" y="1102.70" width="8.47" height="16.60" fill="#6b8e1f"/>
<rect x="466.53" y="1083.90" width="8.47" height="18.80" fill="#4a78a6"/>
<rect x="466.53" y="1025.50" width="8.47" height="58.40" fill="#8fb1d4"/>
<rect x="466.53" y="943.70" width="8.47" height="81.80" fill="#8058d0"/>
<rect x="466.53" y="912.80" width="8.47" height="30.90" fill="#6e1b45"/>
<rect x="466.53" y="906.70" width="8.47" height="6.10" fill="#8bcf7b"/>
<rect x="466.53" y="899.80" width="8.47" height="6.90" fill="#57a04f"/>
<rect x="466.53" y="892.50" width="8.47" height="7.30" fill="#fbbf7e"/>
<rect x="466.53" y="889.90" width="8.47" height="2.60" fill="#f08a24"/>
<rect x="466.53" y="886.70" width="8.47" height="3.20" fill="#a9cfe8"/>
<rect x="466.53" y="885.70" width="8.47" height="1.00" fill="#e6e6e6"/>
<rect x="466.53" y="1102.30" width="8.47" height="0.80" fill="#ffffff" fill-opacity="0.8"/>
<rect x="466.53" y="1083.50" width="8.47" height="0.80" fill="#ffffff" fill-opacity="0.8"/>
<rect x="466.53" y="1025.10" width="8.47" height="0.80" fill="#ffffff" fill-opacity="0.8"/>
<rect x="466.53" y="943.30" width="8.47" height="0.80" fill="#ffffff" fill-opacity="0.8"/>
<rect x="466.53" y="912.40" width="8.47" height="0.80" fill="#ffffff" fill-opacity="0.8"/>
<rect x="466.53" y="906.30" width="8.47" height="0.80" fill="#ffffff" fill-opacity="0.8"/>
<rect x="466.53" y="899.40" width="8.47" height="0.80" fill="#ffffff" fill-opacity="0.8"/>
<rect x="466.53" y="892.10" width="8.47" height="0.80" fill="#ffffff" fill-opacity="0.8"/>
<rect x="466.53" y="889.50" width="8.47" height="0.80" fill="#ffffff" fill-opacity="0.8"/>
<rect x="466.53" y="886.52" width="8.47" height="0.36" fill="#ffffff" fill-opacity="0.8"/>
<rect x="573.00" y="865.90" width="1.00" height="21.60" fill="#a9cfe8"/>
<rect x="573.00" y="894.66" width="2.00" height="21.60" fill="#f08a24"/>
<rect x="573.00" y="923.42" width="4.00" height="21.60" fill="#fbbf7e"/>
<rect x="573.00" y="952.18" width="6.00" height="21.60" fill="#57a04f"/>
<rect x="573.00" y="980.94" width="5.00" height="21.60" fill="#8bcf7b"/>
<rect x="573.00" y="1009.70" width="18.80" height="21.60" fill="#6e1b45"/>
<rect x="573.00" y="1038.46" width="56.70" height="21.60" fill="#8058d0"/>
<rect x="573.00" y="1067.22" width="37.00" height="21.60" fill="#8fb1d4"/>
<rect x="573.00" y="1095.98" width="16.00" height="21.60" fill="#4a78a6"/>
<rect x="573.00" y="1124.74" width="10.70" height="21.60" fill="#6b8e1f"/>
<rect x="450.50" y="1227.10" width="37.40" height="191.70" fill="#efefef"/>
<rect x="450.50" y="1227.10" width="20.70" height="191.70" fill="#e8e8e8"/>
<rect x="472.00" y="1227.10" width="15.90" height="191.70" fill="#e1e1e1"/>
<rect x="70.00" y="1416.81" width="10.40" height="1.99" fill="#ebebeb"/>
<rect x="70.65" y="1417.20" width="9.10" height="1.60" fill="#e3e3e3"/>
<rect x="80.29" y="1416.61" width="10.40" height="2.19" fill="#ebebeb"/>
<rect x="80.94" y="1417.80" width="9.10" height="1.00" fill="#5c92b3"/>
<rect x="80.94" y="1417.00" width="9.10" height="0.80" fill="#e3e3e3"/>
<rect x="80.94" y="1417.62" width="9.10" height="0.36" fill="#ffffff" fill-opacity="0.8"/>
<rect x="90.58" y="1417.91" width="10.40" height="0.89" fill="#ebebeb"/>
<rect x="91.23" y="1418.30" width="9.10" height="0.50" fill="#e3e3e3"/>
<rect x="100.87" y="1416.11" width="10.40" height="2.69" fill="#ebebeb"/>
<rect x="101.52" y="1417.80" width="9.10" height="1.00" fill="#e3e3e3"/>
<rect x="101.52" y="1416.50" width="9.10" height="1.30" fill="#5c92b3"/>
<rect x="101.52" y="1417.62" width="9.10" height="0.36" fill="#ffffff" fill-opacity="0.8"/>
<rect x="111.16" y="1417.01" width="10.40" height="1.79" fill="#ebebeb"/>
<rect x="111.81" y="1417.40" width="9.10" height="1.40" fill="#e3e3e3"/>
<rect x="121.45" y="1415.21" width="10.40" height="3.59" fill="#ebebeb"/>
<rect x="122.10" y="1417.20" width="9.10" height="1.60" fill="#9acdd5"/>
<rect x="122.10" y="1415.60" width="9.10" height="1.60" fill="#5c92b3"/>
<rect x="122.10" y="1417.02" width="9.10" height="0.36" fill="#ffffff" fill-opacity="0.8"/>
<rect x="131.74" y="1413.61" width="10.40" height="5.19" fill="#ebebeb"/>
<rect x="132.39" y="1416.50" width="9.10" height="2.30" fill="#9acdd5"/>
<rect x="132.39" y="1414.90" width="9.10" height="1.60" fill="#5c92b3"/>
<rect x="132.39" y="1414.00" width="9.10" height="0.90" fill="#e3e3e3"/>
<rect x="132.39" y="1416.32" width="9.10" height="0.36" fill="#ffffff" fill-opacity="0.8"/>
<rect x="132.39" y="1414.72" width="9.10" height="0.36" fill="#ffffff" fill-opacity="0.8"/>
<rect x="142.03" y="1406.71" width="10.40" height="12.09" fill="#ebebeb"/>
<rect x="142.68" y="1412.80" width="9.10" height="6.00" fill="#9acdd5"/>
<rect x="142.68" y="1408.00" width="9.10" height="4.80" fill="#5c92b3"/>
<rect x="142.68" y="1407.10" width="9.10" height="0.90" fill="#e3e3e3"/>
<rect x="142.68" y="1412.40" width="9.10" height="0.80" fill="#ffffff" fill-opacity="0.8"/>
<rect x="142.68" y="1407.82" width="9.10" height="0.36" fill="#ffffff" fill-opacity="0.8"/>
<rect x="152.32" y="1410.41" width="10.40" height="8.39" fill="#ebebeb"/>
<rect x="152.97" y="1415.60" width="9.10" height="3.20" fill="#9acdd5"/>
<rect x="152.97" y="1410.80" width="9.10" height="4.80" fill="#5c92b3"/>
<rect x="152.97" y="1415.20" width="9.10" height="0.80" fill="#ffffff" fill-opacity="0.8"/>
<rect x="162.61" y="1407.41" width="10.40" height="11.39" fill="#ebebeb"/>
<rect x="163.26" y="1412.60" width="9.10" height="6.20" fill="#9acdd5"/>
<rect x="163.26" y="1407.80" width="9.10" height="4.80" fill="#5c92b3"/>
<rect x="163.26" y="1412.20" width="9.10" height="0.80" fill="#ffffff" fill-opacity="0.8"/>
<rect x="172.90" y="1400.51" width="10.40" height="18.29" fill="#ebebeb"/>
<rect x="173.55" y="1407.60" width="9.10" height="11.20" fill="#9acdd5"/>
<rect x="173.55" y="1400.90" width="9.10" height="6.70" fill="#5c92b3"/>
<rect x="173.55" y="1407.20" width="9.10" height="0.80" fill="#ffffff" fill-opacity="0.8"/>
<rect x="183.19" y="1392.51" width="10.40" height="26.29" fill="#ebebeb"/>
<rect x="183.84" y="1405.50" width="9.10" height="13.30" fill="#9acdd5"/>
<rect x="183.84" y="1392.90" width="9.10" height="12.60" fill="#5c92b3"/>
<rect x="183.84" y="1405.10" width="9.10" height="0.80" fill="#ffffff" fill-opacity="0.8"/>
<rect x="193.48" y="1400.51" width="10.40" height="18.29" fill="#ebebeb"/>
<rect x="194.13" y="1410.10" width="9.10" height="8.70" fill="#9acdd5"/>
<rect x="194.13" y="1400.90" width="9.10" height="9.20" fill="#5c92b3"/>
<rect x="194.13" y="1409.70" width="9.10" height="0.80" fill="#ffffff" fill-opacity="0.8"/>
<rect x="203.77" y="1388.61" width="10.40" height="30.19" fill="#ebebeb"/>
<rect x="204.42" y="1404.40" width="9.10" height="14.40" fill="#9acdd5"/>
<rect x="204.42" y="1389.00" width="9.10" height="15.40" fill="#5c92b3"/>
<rect x="204.42" y="1404.00" width="9.10" height="0.80" fill="#ffffff" fill-opacity="0.8"/>
<rect x="214.06" y="1358.21" width="10.40" height="60.59" fill="#ebebeb"/>
<rect x="214.71" y="1391.30" width="9.10" height="27.50" fill="#9acdd5"/>
<rect x="214.71" y="1358.60" width="9.10" height="32.70" fill="#5c92b3"/>
<rect x="214.71" y="1390.90" width="9.10" height="0.80" fill="#ffffff" fill-opacity="0.8"/>
<rect x="224.35" y="1367.41" width="10.40" height="51.39" fill="#ebebeb"/>
<rect x="225.00" y="1401.40" width="9.10" height="17.40" fill="#9acdd5"/>
<rect x="225.00" y="1367.80" width="9.10" height="33.60" fill="#5c92b3"/>
<rect x="225.00" y="1401.00" width="9.10" height="0.80" fill="#ffffff" fill-opacity="0.8"/>
<rect x="234.64" y="1356.41" width="10.40" height="62.39" fill="#ebebeb"/>
<rect x="235.29" y="1391.30" width="9.10" height="27.50" fill="#9acdd5"/>
<rect x="235.29" y="1356.80" width="9.10" height="34.50" fill="#5c92b3"/>
<rect x="235.29" y="1390.90" width="9.10" height="0.80" fill="#ffffff" fill-opacity="0.8"/>
<rect x="244.93" y="1348.41" width="10.40" height="70.39" fill="#ebebeb"/>
<rect x="245.58" y="1383.80" width="9.10" height="35.00" fill="#9acdd5"/>
<rect x="245.58" y="1348.80" width="9.10" height="35.00" fill="#5c92b3"/>
<rect x="245.58" y="1383.40" width="9.10" height="0.80" fill="#ffffff" fill-opacity="0.8"/>
<rect x="255.22" y="1354.31" width="10.40" height="64.49" fill="#ebebeb"/>
<rect x="255.87" y="1385.40" width="9.10" height="33.40" fill="#9acdd5"/>
<rect x="255.87" y="1354.70" width="9.10" height="30.70" fill="#5c92b3"/>
<rect x="255.87" y="1385.00" width="9.10" height="0.80" fill="#ffffff" fill-opacity="0.8"/>
<rect x="265.51" y="1360.51" width="10.40" height="58.29" fill="#ebebeb"/>
<rect x="266.16" y="1390.60" width="9.10" height="28.20" fill="#9acdd5"/>
<rect x="266.16" y="1360.90" width="9.10" height="29.70" fill="#5c92b3"/>
<rect x="266.16" y="1390.20" width="9.10" height="0.80" fill="#ffffff" fill-opacity="0.8"/>
<rect x="275.80" y="1381.51" width="10.40" height="37.29" fill="#ebebeb"/>
<rect x="276.45" y="1399.30" width="9.10" height="19.50" fill="#9acdd5"/>
<rect x="276.45" y="1381.90" width="9.10" height="17.40" fill="#5c92b3"/>
<rect x="276.45" y="1398.90" width="9.10" height="0.80" fill="#ffffff" fill-opacity="0.8"/>
<rect x="286.09" y="1385.41" width="10.40" height="33.39" fill="#ebebeb"/>
<rect x="286.74" y="1403.20" width="9.10" height="15.60" fill="#9acdd5"/>
<rect x="286.74" y="1385.80" width="9.10" height="17.40" fill="#5c92b3"/>
<rect x="286.74" y="1402.80" width="9.10" height="0.80" fill="#ffffff" fill-opacity="0.8"/>
<rect x="296.38" y="1391.41" width="10.40" height="27.39" fill="#ebebeb"/>
<rect x="297.03" y="1407.60" width="9.10" height="11.20" fill="#9acdd5"/>
<rect x="297.03" y="1391.80" width="9.10" height="15.80" fill="#5c92b3"/>
<rect x="297.03" y="1407.20" width="9.10" height="0.80" fill="#ffffff" fill-opacity="0.8"/>
<rect x="306.67" y="1396.41" width="10.40" height="22.39" fill="#ebebeb"/>
<rect x="307.32" y="1408.80" width="9.10" height="10.00" fill="#9acdd5"/>
<rect x="307.32" y="1396.80" width="9.10" height="12.00" fill="#5c92b3"/>
<rect x="307.32" y="1408.40" width="9.10" height="0.80" fill="#ffffff" fill-opacity="0.8"/>
<rect x="316.96" y="1395.51" width="10.40" height="23.29" fill="#ebebeb"/>
<rect x="317.61" y="1408.50" width="9.10" height="10.30" fill="#9acdd5"/>
<rect x="317.61" y="1395.90" width="9.10" height="12.60" fill="#5c92b3"/>
<rect x="317.61" y="1408.10" width="9.10" height="0.80" fill="#ffffff" fill-opacity="0.8"/>
<rect x="327.25" y="1402.61" width="10.40" height="16.19" fill="#ebebeb"/>
<rect x="327.90" y="1412.60" width="9.10" height="6.20" fill="#9acdd5"/>
<rect x="327.90" y="1403.00" width="9.10" height="9.60" fill="#5c92b3"/>
<rect x="327.90" y="1412.20" width="9.10" height="0.80" fill="#ffffff" fill-opacity="0.8"/>
<rect x="337.54" y="1390.51" width="10.40" height="28.29" fill="#ebebeb"/>
<rect x="338.19" y="1405.60" width="9.10" height="13.20" fill="#9acdd5"/>
<rect x="338.19" y="1390.90" width="9.10" height="14.70" fill="#5c92b3"/>
<rect x="338.19" y="1405.20" width="9.10" height="0.80" fill="#ffffff" fill-opacity="0.8"/>
<rect x="347.83" y="1389.41" width="10.40" height="29.39" fill="#ebebeb"/>
<rect x="348.48" y="1406.60" width="9.10" height="12.20" fill="#9acdd5"/>
<rect x="348.48" y="1389.80" width="9.10" height="16.80" fill="#5c92b3"/>
<rect x="348.48" y="1406.20" width="9.10" height="0.80" fill="#ffffff" fill-opacity="0.8"/>
<rect x="358.12" y="1349.21" width="10.40" height="69.59" fill="#ebebeb"/>
<rect x="358.77" y="1384.40" width="9.10" height="34.40" fill="#9acdd5"/>
<rect x="358.77" y="1349.60" width="9.10" height="34.80" fill="#5c92b3"/>
<rect x="358.77" y="1384.00" width="9.10" height="0.80" fill="#ffffff" fill-opacity="0.8"/>
<rect x="368.41" y="1335.11" width="10.40" height="83.69" fill="#ebebeb"/>
<rect x="369.06" y="1370.30" width="9.10" height="48.50" fill="#9acdd5"/>
<rect x="369.06" y="1335.50" width="9.10" height="34.80" fill="#5c92b3"/>
<rect x="369.06" y="1369.90" width="9.10" height="0.80" fill="#ffffff" fill-opacity="0.8"/>
<rect x="378.70" y="1323.41" width="10.40" height="95.39" fill="#ebebeb"/>
<rect x="379.35" y="1377.10" width="9.10" height="41.70" fill="#9acdd5"/>
<rect x="379.35" y="1323.80" width="9.10" height="53.30" fill="#5c92b3"/>
<rect x="379.35" y="1376.70" width="9.10" height="0.80" fill="#ffffff" fill-opacity="0.8"/>
<rect x="388.99" y="1303.01" width="10.40" height="115.79" fill="#ebebeb"/>
<rect x="389.64" y="1365.20" width="9.10" height="53.60" fill="#9acdd5"/>
<rect x="389.64" y="1303.40" width="9.10" height="61.80" fill="#5c92b3"/>
<rect x="389.64" y="1364.80" width="9.10" height="0.80" fill="#ffffff" fill-opacity="0.8"/>
<rect x="399.28" y="1310.41" width="10.40" height="108.39" fill="#ebebeb"/>
<rect x="399.93" y="1369.10" width="9.10" height="49.70" fill="#9acdd5"/>
<rect x="399.93" y="1310.80" width="9.10" height="58.30" fill="#5c92b3"/>
<rect x="399.93" y="1368.70" width="9.10" height="0.80" fill="#ffffff" fill-opacity="0.8"/>
<rect x="409.57" y="1350.41" width="10.40" height="68.39" fill="#ebebeb"/>
<rect x="410.22" y="1386.30" width="9.10" height="32.50" fill="#9acdd5"/>
<rect x="410.22" y="1350.80" width="9.10" height="35.50" fill="#5c92b3"/>
<rect x="410.22" y="1385.90" width="9.10" height="0.80" fill="#ffffff" fill-opacity="0.8"/>
<rect x="419.86" y="1326.41" width="10.40" height="92.39" fill="#ebebeb"/>
<rect x="420.51" y="1382.20" width="9.10" height="36.60" fill="#9acdd5"/>
<rect x="420.51" y="1326.80" width="9.10" height="55.40" fill="#5c92b3"/>
<rect x="420.51" y="1381.80" width="9.10" height="0.80" fill="#ffffff" fill-opacity="0.8"/>
<rect x="430.15" y="1313.41" width="10.40" height="105.39" fill="#ebebeb"/>
<rect x="430.80" y="1371.40" width="9.10" height="47.40" fill="#9acdd5"/>
<rect x="430.80" y="1313.80" width="9.10" height="57.60" fill="#5c92b3"/>
<rect x="430.80" y="1371.00" width="9.10" height="0.80" fill="#ffffff" fill-opacity="0.8"/>
<rect x="440.44" y="1294.41" width="10.40" height="124.39" fill="#ebebeb"/>
<rect x="441.09" y="1364.60" width="9.10" height="54.20" fill="#9acdd5"/>
<rect x="441.09" y="1294.80" width="9.10" height="69.80" fill="#5c92b3"/>
<rect x="441.09" y="1364.20" width="9.10" height="0.80" fill="#ffffff" fill-opacity="0.8"/>
<rect x="450.73" y="1227.51" width="10.40" height="191.29" fill="#ebebeb"/>
<rect x="451.38" y="1329.10" width="9.10" height="89.70" fill="#9acdd5"/>
<rect x="451.38" y="1227.90" width="9.10" height="101.20" fill="#5c92b3"/>
<rect x="451.38" y="1328.70" width="9.10" height="0.80" fill="#ffffff" fill-opacity="0.8"/>
<rect x="461.02" y="1235.31" width="10.40" height="183.49" fill="#ebebeb"/>
<rect x="461.67" y="1417.80" width="9.10" height="1.00" fill="#e7d0cb"/>
<rect x="461.67" y="1335.30" width="9.10" height="82.50" fill="#9acdd5"/>
<rect x="461.67" y="1235.70" width="9.10" height="99.60" fill="#5c92b3"/>
<rect x="461.67" y="1417.62" width="9.10" height="0.36" fill="#ffffff" fill-opacity="0.8"/>
<rect x="461.67" y="1334.90" width="9.10" height="0.80" fill="#ffffff" fill-opacity="0.8"/>
<rect x="572.20" y="1216.00" width="0.80" height="158.00" fill="#ececec"/>
<rect x="573.00" y="1228.30" width="72.10" height="52.30" fill="#2f7399"/>
<rect x="573.00" y="1307.30" width="64.00" height="52.30" fill="#7fbfca"/>
</svg>
<div style="position:absolute;left:50px;width:600px;text-align:center;top:15.70px;line-height:14px;font-size:12px;font-weight:normal;color:#333;white-space:nowrap;">Cases Demographics Data: March 1, 2020 – December 12, 2020</div>
<div style="position:absolute;left:50px;width:600px;text-align:center;top:30.60px;line-height:18px;font-size:16px;font-weight:bold;color:#333;white-space:nowrap;">Weekly Cases Demographics</div>
<div style="position:absolute;left:50px;width:600px;text-align:center;top:48.90px;line-height:13px;font-size:11px;font-weight:normal;color:#333;white-space:nowrap;">by Date of Specimen Collection</div>
<div style="position:absolute;left:50px;width:600px;text-align:center;top:61.70px;line-height:13px;font-size:11px;font-weight:normal;color:#333;white-space:nowrap;">Updated every Monday</div>
<div style="position:absolute;left:12px;top:90px;width:221px;height:28.8px;background:#6c87a3;"></div>
<div style="position:absolute;left:16px;top:96.70px;line-height:14px;font-size:12px;font-weight:bold;color:#fff;white-space:nowrap;">Select County:</div>
<div style="position:absolute;left:261px;top:90px;width:200px;height:28.8px;background:#6c87a3;"></div>
<div style="position:absolute;left:265px;top:96.70px;line-height:14px;font-size:12px;font-weight:bold;color:#fff;white-space:nowrap;">Select Metric:</div>
<div style="position:absolute;left:16px;top:120.00px;line-height:14px;font-size:12px;font-weight:bold;color:#c9c9c9;white-space:nowrap;">Cabarrus County</div>
<div style="position:absolute;left:12px;top:137px;width:202px;height:20px;background:#bde3f3;"></div>
<div style="position:absolute;left:16px;top:139.80px;line-height:14px;font-size:12px;font-weight:bold;color:#2c2c2c;white-space:nowrap;">Caldwell County</div>
<div style="position:absolute;left:16px;top:160.30px;line-height:14px;font-size:12px;font-weight:bold;color:#d4d4d4;white-space:nowrap;">Camden County</div>
<div style="position:absolute;left:16px;top:182px;width:70px;height:1.4px;overflow:hidden;"><div style="font-size:12px;font-weight:bold;color:#e4e4e4;line-height:14px;margin-top:-2px;white-space:nowrap;">Carteret County</div></div>
<div style="position:absolute;left:215px;top:122px;width:17px;height:62px;border:1px solid #adadad;box-sizing:border-box;background:#fff;"></div>
<div style="position:absolute;left:215px;top:129px;width:17px;height:4px;border:1px solid #adadad;border-left:none;border-right:none;box-sizing:border-box;background:#f2f2f2;margin-left:0;"></div>
<div style="position:absolute;left:215px;top:129px;width:1px;height:4px;background:#adadad;"></div><div style="position:absolute;left:231px;top:129px;width:1px;height:4px;background:#adadad;"></div>
<div style="position:absolute;left:265px;top:129.60px;line-height:14px;font-size:12px;font-weight:bold;color:#222;white-space:nowrap;">Cases</div>
<div style="position:absolute;left:265px;top:159.60px;line-height:14px;font-size:12px;font-weight:bold;color:#222;white-space:nowrap;">Deaths</div>
<div style="position:absolute;left:8px;top:187px;width:684px;height:32.80000000000001px;background:#6c87a3;"></div>
<div style="position:absolute;left:16px;top:195.10px;line-height:18px;font-size:16px;font-weight:bold;color:#fff;white-space:nowrap;">Cases by Race for Caldwell County</div>
<div style="position:absolute;left:662.4px;top:196.3px;width:14px;height:14px;border-radius:7px;background:#1d4f91;"></div>
<div style="position:absolute;left:662.6px;top:196.6px;width:14px;height:14px;color:#fff;font-family:'Liberation Serif',serif;font-style:italic;font-weight:bold;font-size:12px;line-height:14px;text-align:center;text-shadow:0.35px 0 0 #fff;">i</div>
<div style="position:absolute;left:10px;top:220.4px;width:489px;height:32.19999999999999px;background:#f5f5f5;"></div>
<div style="position:absolute;left:513px;top:220.4px;width:180px;height:33.19999999999999px;background:#f5f5f5;"></div>
<div style="position:absolute;left:-46.69999999999999px;width:600px;text-align:center;top:228.10px;line-height:15px;font-size:13px;font-weight:bold;color:#111;white-space:nowrap;">Weekly Cases Trend</div>
<div style="position:absolute;left:301.5px;width:600px;text-align:center;top:229.70px;line-height:14px;font-size:12px;font-weight:bold;color:#111;white-space:nowrap;">Total Cases</div>
<div style="position:absolute;right:653.8px;top:405.80px;line-height:14px;font-size:12px;font-weight:bold;color:#333;white-space:nowrap;">100</div>
<div style="position:absolute;right:653.8px;top:361.60px;line-height:14px;font-size:12px;font-weight:bold;color:#333;white-space:nowrap;">200</div>
<div style="position:absolute;right:653.8px;top:317.40px;line-height:14px;font-size:12px;font-weight:bold;color:#333;white-space:nowrap;">300</div>
<div style="position:absolute;right:653.8px;top:273.20px;line-height:14px;font-size:12px;font-weight:bold;color:#333;white-space:nowrap;">400</div>
<div style="position:absolute;right:653.8px;top:443.00px;line-height:14px;font-size:12px;font-weight:bold;color:#333;white-space:nowrap;">0</div>
<div style="position:absolute;left:-216.4px;width:600px;text-align:center;top:463.60px;line-height:14px;font-size:12px;font-weight:bold;color:#333;white-space:nowrap;">3/22</div>
<div style="position:absolute;left:-184.5px;width:600px;text-align:center;top:463.60px;line-height:14px;font-size:12px;font-weight:bold;color:#333;white-space:nowrap;">4/12</div>
<div style="position:absolute;left:-152.6px;width:600px;text-align:center;top:463.60px;line-height:14px;font-size:12px;font-weight:bold;color:#333;white-space:nowrap;">5/3</div>
<div style="position:absolute;left:-120.69999999999999px;width:600px;text-align:center;top:463.60px;line-height:14px;font-size:12px;font-weight:bold;color:#333;white-space:nowrap;">5/24</div>
<div style="position:absolute;left:-88.80000000000001px;width:600px;text-align:center;top:463.60px;line-height:14px;font-size:12px;font-weight:bold;color:#333;white-space:nowrap;">6/14</div>
<div style="position:absolute;left:-56.900000000000006px;width:600px;text-align:center;top:463.60px;line-height:14px;font-size:12px;font-weight:bold;color:#333;white-space:nowrap;">7/5</div>
<div style="position:absolute;left:-25.100000000000023px;width:600px;text-align:center;top:463.60px;line-height:14px;font-size:12px;font-weight:bold;color:#333;white-space:nowrap;">7/26</div>
<div style="position:absolute;left:6.800000000000011px;width:600px;text-align:center;top:463.60px;line-height:14px;font-size:12px;font-weight:bold;color:#333;white-space:nowrap;">8/16</div>
<div style="position:absolute;left:38.69999999999999px;width:600px;text-align:center;top:463.60px;line-height:14px;font-size:12px;font-weight:bold;color:#333;white-space:nowrap;">9/6</div>
<div style="position:absolute;left:70.60000000000002px;width:600px;text-align:center;top:463.60px;line-height:14px;font-size:12px;font-weight:bold;color:#333;white-space:nowrap;">9/27</div>
<div style="position:absolute;left:102.5px;width:600px;text-align:center;top:463.60px;line-height:14px;font-size:12px;font-weight:bold;color:#333;white-space:nowrap;">10/18</div>
<div style="position:absolute;left:134.39999999999998px;width:600px;text-align:center;top:463.60px;line-height:14px;font-size:12px;font-weight:bold;color:#333;white-space:nowrap;">11/8</div>
<div style="position:absolute;left:166.3px;width:600px;text-align:center;top:463.60px;line-height:14px;font-size:12px;font-weight:bold;color:#333;white-space:nowrap;">11/29</div>
<div style="position:absolute;left:505px;top:259.80px;line-height:13px;font-size:11px;font-weight:bold;color:#333;white-space:nowrap;">American Indian</div>
<div style="position:absolute;left:505px;top:273.00px;line-height:13px;font-size:11px;font-weight:bold;color:#333;white-space:nowrap;">Alaskan Native</div>
<div style="position:absolute;left:600.8px;top:259.80px;line-height:13px;font-size:11px;font-weight:normal;color:#333;white-space:nowrap;">0%</div>
<div style="position:absolute;left:600.8px;top:273.00px;line-height:13px;font-size:11px;font-weight:normal;color:#333;white-space:nowrap;">(2)</div>
<div style="position:absolute;left:505px;top:297.35px;line-height:13px;font-size:11px;font-weight:bold;color:#333;white-space:nowrap;">Asian or Pacific</div>
<div style="position:absolute;left:505px;top:310.55px;line-height:13px;font-size:11px;font-weight:bold;color:#333;white-space:nowrap;">Islander</div>
<div style="position:absolute;left:600.8px;top:297.35px;line-height:13px;font-size:11px;font-weight:normal;color:#333;white-space:nowrap;">0%</div>
<div style="position:absolute;left:600.8px;top:310.55px;line-height:13px;font-size:11px;font-weight:normal;color:#333;white-space:nowrap;">(13)</div>
<div style="position:absolute;left:505px;top:334.90px;line-height:13px;font-size:11px;font-weight:bold;color:#333;white-space:nowrap;">Black or African</div>
<div style="position:absolute;left:505px;top:348.10px;line-height:13px;font-size:11px;font-weight:bold;color:#333;white-space:nowrap;">American</div>
<div style="position:absolute;left:601.1999999999999px;top:334.90px;line-height:13px;font-size:11px;font-weight:normal;color:#333;white-space:nowrap;">4%</div>
<div style="position:absolute;left:601.1999999999999px;top:348.10px;line-height:13px;font-size:11px;font-weight:normal;color:#333;white-space:nowrap;">(167)</div>
<div style="position:absolute;left:505px;top:379.05px;line-height:13px;font-size:11px;font-weight:bold;color:#333;white-space:nowrap;">White</div>
<div style="position:absolute;left:650.5px;top:372.45px;line-height:13px;font-size:11px;font-weight:normal;color:#333;white-space:nowrap;">93%</div>
<div style="position:absolute;left:650.5px;top:385.65px;line-height:13px;font-size:11px;font-weight:normal;color:#333;white-space:nowrap;">(3,652)</div>
<div style="position:absolute;left:505px;top:416.60px;line-height:13px;font-size:11px;font-weight:bold;color:#333;white-space:nowrap;">Other</div>
<div style="position:absolute;left:600.8px;top:410.00px;line-height:13px;font-size:11px;font-weight:normal;color:#333;white-space:nowrap;">2%</div>
<div style="position:absolute;left:600.8px;top:423.20px;line-height:13px;font-size:11px;font-weight:normal;color:#333;white-space:nowrap;">(91)</div>
<div style="position:absolute;left:505px;top:454.00px;line-height:14px;font-size:12px;font-weight:bold;color:#333;white-space:nowrap;">Missing Data</div>
<div style="position:absolute;left:600.5px;top:453.00px;line-height:14px;font-size:12px;font-weight:normal;color:#333;white-space:nowrap;">619</div>
<div style="position:absolute;left:8px;top:488px;width:684px;height:34.5px;background:#6c87a3;"></div>
<div style="position:absolute;left:16px;top:496.55px;line-height:18px;font-size:16px;font-weight:bold;color:#fff;white-space:nowrap;">Cases by Ethnicity for Caldwell County</div>
<div style="position:absolute;left:668.4px;top:498.3px;width:14px;height:14px;border-radius:7px;background:#1d4f91;"></div>
<div style="position:absolute;left:668.6px;top:498.6px;width:14px;height:14px;color:#fff;font-family:'Liberation Serif',serif;font-style:italic;font-weight:bold;font-size:12px;line-height:14px;text-align:center;text-shadow:0.35px 0 0 #fff;">i</div>
<div style="position:absolute;left:10px;top:523.5px;width:494.8px;height:32.200000000000045px;background:#f5f5f5;"></div>
<div style="position:absolute;left:516px;top:523.5px;width:177px;height:32.200000000000045px;background:#f5f5f5;"></div>
<div style="position:absolute;left:-43.69999999999999px;width:600px;text-align:center;top:531.20px;line-height:15px;font-size:13px;font-weight:bold;color:#111;white-space:nowrap;">Weekly Cases Trend</div>
<div style="position:absolute;left:303.5px;width:600px;text-align:center;top:532.30px;line-height:14px;font-size:12px;font-weight:bold;color:#111;white-space:nowrap;">Total Cases</div>
<div style="position:absolute;right:643.5px;top:716.30px;line-height:14px;font-size:12px;font-weight:bold;color:#333;white-space:nowrap;">100</div>
<div style="position:absolute;right:643.5px;top:670.00px;line-height:14px;font-size:12px;font-weight:bold;color:#333;white-space:nowrap;">200</div>
<div style="position:absolute;right:643.5px;top:623.70px;line-height:14px;font-size:12px;font-weight:bold;color:#333;white-space:nowrap;">300</div>
<div style="position:absolute;right:643.5px;top:577.40px;line-height:14px;font-size:12px;font-weight:bold;color:#333;white-space:nowrap;">400</div>
<div style="position:absolute;right:643.5px;top:755.00px;line-height:14px;font-size:12px;font-weight:bold;color:#333;white-space:nowrap;">0</div>
<div style="position:absolute;left:-206.4px;width:600px;text-align:center;top:775.60px;line-height:14px;font-size:12px;font-weight:bold;color:#333;white-space:nowrap;">3/22</div>
<div style="position:absolute;left:-174.5px;width:600px;text-align:center;top:775.60px;line-height:14px;font-size:12px;font-weight:bold;color:#333;white-space:nowrap;">4/12</div>
<div style="position:absolute;left:-142.7px;width:600px;text-align:center;top:775.60px;line-height:14px;font-size:12px;font-weight:bold;color:#333;white-space:nowrap;">5/3</div>
<div style="position:absolute;left:-110.80000000000001px;width:600px;text-align:center;top:775.60px;line-height:14px;font-size:12px;font-weight:bold;color:#333;white-space:nowrap;">5/24</div>
<div style="position:absolute;left:-78.9px;width:600px;text-align:center;top:775.60px;line-height:14px;font-size:12px;font-weight:bold;color:#333;white-space:nowrap;">6/14</div>
<div style="position:absolute;left:-47.099999999999994px;width:600px;text-align:center;top:775.60px;line-height:14px;font-size:12px;font-weight:bold;color:#333;white-space:nowrap;">7/5</div>
<div style="position:absolute;left:-15.199999999999989px;width:600px;text-align:center;top:775.60px;line-height:14px;font-size:12px;font-weight:bold;color:#333;white-space:nowrap;">7/26</div>
<div style="position:absolute;left:16.600000000000023px;width:600px;text-align:center;top:775.60px;line-height:14px;font-size:12px;font-weight:bold;color:#333;white-space:nowrap;">8/16</div>
<div style="position:absolute;left:48.5px;width:600px;text-align:center;top:775.60px;line-height:14px;font-size:12px;font-weight:bold;color:#333;white-space:nowrap;">9/6</div>
<div style="position:absolute;left:80.39999999999998px;width:600px;text-align:center;top:775.60px;line-height:14px;font-size:12px;font-weight:bold;color:#333;white-space:nowrap;">9/27</div>
<div style="position:absolute;left:112.19999999999999px;width:600px;text-align:center;top:775.60px;line-height:14px;font-size:12px;font-weight:bold;color:#333;white-space:nowrap;">10/18</div>
<div style="position:absolute;left:144.10000000000002px;width:600px;text-align:center;top:775.60px;line-height:14px;font-size:12px;font-weight:bold;color:#333;white-space:nowrap;">11/8</div>
<div style="position:absolute;left:175.89999999999998px;width:600px;text-align:center;top:775.60px;line-height:14px;font-size:12px;font-weight:bold;color:#333;white-space:nowrap;">11/29</div>
<div style="position:absolute;left:516px;top:588.70px;line-height:14px;font-size:12px;font-weight:bold;color:#333;white-space:nowrap;">Hispanic</div>
<div style="position:absolute;left:516px;top:662.70px;line-height:14px;font-size:12px;font-weight:bold;color:#333;white-space:nowrap;">Non-</div>
<div style="position:absolute;left:516px;top:677.00px;line-height:14px;font-size:12px;font-weight:bold;color:#333;white-space:nowrap;">Hispanic</div>
<div style="position:absolute;left:602px;top:582.50px;line-height:13px;font-size:11px;font-weight:normal;color:#333;white-space:nowrap;">16%</div>
<div style="position:absolute;left:602px;top:595.80px;line-height:13px;font-size:11px;font-weight:normal;color:#333;white-space:nowrap;">(457)</div>
<div style="position:absolute;left:650px;top:663.20px;line-height:13px;font-size:11px;font-weight:normal;color:#333;white-space:nowrap;">84%</div>
<div style="position:absolute;left:650px;top:676.50px;line-height:13px;font-size:11px;font-weight:normal;color:#333;white-space:nowrap;">(2,353)</div>
<div style="position:absolute;left:516px;top:750.70px;line-height:14px;font-size:12px;font-weight:bold;color:#333;white-space:nowrap;">Missing Data</div>
<div style="position:absolute;left:602.5px;top:750.00px;line-height:14px;font-size:12px;font-weight:normal;color:#333;white-space:nowrap;">1,734</div>
<div style="position:absolute;left:8px;top:798px;width:684px;height:31.5px;background:#6c87a3;"></div>
<div style="position:absolute;left:16px;top:805.75px;line-height:18px;font-size:16px;font-weight:bold;color:#fff;white-space:nowrap;">Cases by Age for Caldwell County</div>
<div style="position:absolute;left:666.9px;top:806.8px;width:14px;height:14px;border-radius:7px;background:#1d4f91;"></div>
<div style="position:absolute;left:667.1px;top:807.1px;width:14px;height:14px;color:#fff;font-family:'Liberation Serif',serif;font-style:italic;font-weight:bold;font-size:12px;line-height:14px;text-align:center;text-shadow:0.35px 0 0 #fff;">i</div>
<div style="position:absolute;left:10px;top:830.5px;width:478.9px;height:33.0px;background:#f5f5f5;"></div>
<div style="position:absolute;left:502px;top:830.5px;width:191px;height:33.0px;background:#f5f5f5;"></div>
<div style="position:absolute;left:-52px;width:600px;text-align:center;top:839.20px;line-height:15px;font-size:13px;font-weight:bold;color:#111;white-space:nowrap;">Weekly Cases Trend</div>
<div style="position:absolute;left:296.5px;width:600px;text-align:center;top:839.70px;line-height:14px;font-size:12px;font-weight:bold;color:#111;white-space:nowrap;">Total Cases</div>
<div style="position:absolute;right:653px;top:1056.20px;line-height:14px;font-size:12px;font-weight:bold;color:#333;white-space:nowrap;">100</div>
<div style="position:absolute;right:653px;top:1000.70px;line-height:14px;font-size:12px;font-weight:bold;color:#333;white-space:nowrap;">200</div>
<div style="position:absolute;right:653px;top:945.20px;line-height:14px;font-size:12px;font-weight:bold;color:#333;white-space:nowrap;">300</div>
<div style="position:absolute;right:653px;top:889.70px;line-height:14px;font-size:12px;font-weight:bold;color:#333;white-space:nowrap;">400</div>
<div style="position:absolute;right:653px;top:1105.30px;line-height:14px;font-size:12px;font-weight:bold;color:#333;white-space:nowrap;">0</div>
<div style="position:absolute;left:-214.8px;width:600px;text-align:center;top:1126.00px;line-height:14px;font-size:12px;font-weight:bold;color:#333;white-space:nowrap;">3/22</div>
<div style="position:absolute;left:-183.6px;width:600px;text-align:center;top:1126.00px;line-height:14px;font-size:12px;font-weight:bold;color:#333;white-space:nowrap;">4/12</div>
<div style="position:absolute;left:-152.5px;width:600px;text-align:center;top:1126.00px;line-height:14px;font-size:12px;font-weight:bold;color:#333;white-space:nowrap;">5/3</div>
<div style="position:absolute;left:-121.30000000000001px;width:600px;text-align:center;top:1126.00px;line-height:14px;font-size:12px;font-weight:bold;color:#333;white-space:nowrap;">5/24</div>
<div style="position:absolute;left:-90.1px;width:600px;text-align:center;top:1126.00px;line-height:14px;font-size:12px;font-weight:bold;color:#333;white-space:nowrap;">6/14</div>
<div style="position:absolute;left:-59.0px;width:600px;text-align:center;top:1126.00px;line-height:14px;font-size:12px;font-weight:bold;color:#333;white-space:nowrap;">7/5</div>
<div style="position:absolute;left:-27.80000000000001px;width:600px;text-align:center;top:1126.00px;line-height:14px;font-size:12px;font-weight:bold;color:#333;white-space:nowrap;">7/26</div>
<div style="position:absolute;left:3.3999999999999773px;width:600px;text-align:center;top:1126.00px;line-height:14px;font-size:12px;font-weight:bold;color:#333;white-space:nowrap;">8/16</div>
<div style="position:absolute;left:34.60000000000002px;width:600px;text-align:center;top:1126.00px;line-height:14px;font-size:12px;font-weight:bold;color:#333;white-space:nowrap;">9/6</div>
<div style="position:absolute;left:65.69999999999999px;width:600px;text-align:center;top:1126.00px;line-height:14px;font-size:12px;font-weight:bold;color:#333;white-space:nowrap;">9/27</div>
<div style="position:absolute;left:96.89999999999998px;width:600px;text-align:center;top:1126.00px;line-height:14px;font-size:12px;font-weight:bold;color:#333;white-space:nowrap;">10/18</div>
<div style="position:absolute;left:128.10000000000002px;width:600px;text-align:center;top:1126.00px;line-height:14px;font-size:12px;font-weight:bold;color:#333;white-space:nowrap;">11/8</div>
<div style="position:absolute;left:159.2px;width:600px;text-align:center;top:1126.00px;line-height:14px;font-size:12px;font-weight:bold;color:#333;white-space:nowrap;">11/29</div>
<div style="position:absolute;left:499.5px;top:870.70px;line-height:14px;font-size:12px;font-weight:bold;color:#333;white-space:nowrap;">0-1</div>
<div style="position:absolute;left:578.5px;top:869.70px;line-height:13px;font-size:11px;font-weight:normal;color:#333;white-space:nowrap;">1% (33)</div>
<div style="position:absolute;left:499.5px;top:899.46px;line-height:14px;font-size:12px;font-weight:bold;color:#333;white-space:nowrap;">2-4</div>
<div style="position:absolute;left:579.5px;top:898.46px;line-height:13px;font-size:11px;font-weight:normal;color:#333;white-space:nowrap;">1% (66)</div>
<div style="position:absolute;left:499.5px;top:928.22px;line-height:14px;font-size:12px;font-weight:bold;color:#333;white-space:nowrap;">5-9</div>
<div style="position:absolute;left:581.5px;top:927.22px;line-height:13px;font-size:11px;font-weight:normal;color:#333;white-space:nowrap;">3% (126)</div>
<div style="position:absolute;left:499.5px;top:956.98px;line-height:14px;font-size:12px;font-weight:bold;color:#333;white-space:nowrap;">10-14</div>
<div style="position:absolute;left:583.5px;top:955.98px;line-height:13px;font-size:11px;font-weight:normal;color:#333;white-space:nowrap;">4% (184)</div>
<div style="position:absolute;left:499.5px;top:985.74px;line-height:14px;font-size:12px;font-weight:bold;color:#333;white-space:nowrap;">15-17</div>
<div style="position:absolute;left:582.5px;top:984.74px;line-height:13px;font-size:11px;font-weight:normal;color:#333;white-space:nowrap;">3% (153)</div>
<div style="position:absolute;left:499.5px;top:1014.50px;line-height:14px;font-size:12px;font-weight:bold;color:#333;white-space:nowrap;">18-24</div>
<div style="position:absolute;left:596.3px;top:1013.50px;line-height:13px;font-size:11px;font-weight:normal;color:#333;white-space:nowrap;">12% (533)</div>
<div style="position:absolute;left:499.5px;top:1043.26px;line-height:14px;font-size:12px;font-weight:bold;color:#333;white-space:nowrap;">25-49</div>
<div style="position:absolute;left:631.2px;top:1042.26px;line-height:13px;font-size:11px;font-weight:normal;color:#333;white-space:nowrap;">36% (1,622)</div>
<div style="position:absolute;left:499.5px;top:1072.02px;line-height:14px;font-size:12px;font-weight:bold;color:#333;white-space:nowrap;">50-64</div>
<div style="position:absolute;left:614.5px;top:1071.02px;line-height:13px;font-size:11px;font-weight:normal;color:#333;white-space:nowrap;">23% (1,056)</div>
<div style="position:absolute;left:499.5px;top:1100.78px;line-height:14px;font-size:12px;font-weight:bold;color:#333;white-space:nowrap;">65-74</div>
<div style="position:absolute;left:593.5px;top:1099.78px;line-height:13px;font-size:11px;font-weight:normal;color:#333;white-space:nowrap;">10% (453)</div>
<div style="position:absolute;left:499.5px;top:1129.54px;line-height:14px;font-size:12px;font-weight:bold;color:#333;white-space:nowrap;">75+</div>
<div style="position:absolute;left:588.2px;top:1128.54px;line-height:13px;font-size:11px;font-weight:normal;color:#333;white-space:nowrap;">7% (318)</div>
<div style="position:absolute;left:8px;top:1150px;width:684px;height:33px;background:#6c87a3;"></div>
<div style="position:absolute;left:16px;top:1157.80px;line-height:18px;font-size:16px;font-weight:bold;color:#fff;white-space:nowrap;">Cases by Gender for Caldwell County</div>
<div style="position:absolute;left:668.8px;top:1159.3px;width:14px;height:14px;border-radius:7px;background:#1d4f91;"></div>
<div style="position:absolute;left:669.0px;top:1159.6px;width:14px;height:14px;color:#fff;font-family:'Liberation Serif',serif;font-style:italic;font-weight:bold;font-size:12px;line-height:14px;text-align:center;text-shadow:0.35px 0 0 #fff;">i</div>
<div style="position:absolute;left:8px;top:1183px;width:475.8px;height:32.700000000000045px;background:#f5f5f5;"></div>
<div style="position:absolute;left:492px;top:1183px;width:201px;height:32.700000000000045px;background:#f5f5f5;"></div>
<div style="position:absolute;left:-55px;width:600px;text-align:center;top:1190.95px;line-height:15px;font-size:13px;font-weight:bold;color:#111;white-space:nowrap;">Weekly Cases Trend</div>
<div style="position:absolute;left:291.5px;width:600px;text-align:center;top:1192.05px;line-height:14px;font-size:12px;font-weight:bold;color:#111;white-space:nowrap;">Total Cases</div>
<div style="position:absolute;right:653px;top:1368.10px;line-height:14px;font-size:12px;font-weight:bold;color:#333;white-space:nowrap;">100</div>
<div style="position:absolute;right:653px;top:1324.40px;line-height:14px;font-size:12px;font-weight:bold;color:#333;white-space:nowrap;">200</div>
<div style="position:absolute;right:653px;top:1280.70px;line-height:14px;font-size:12px;font-weight:bold;color:#333;white-space:nowrap;">300</div>
<div style="position:absolute;right:653px;top:1237.00px;line-height:14px;font-size:12px;font-weight:bold;color:#333;white-space:nowrap;">400</div>
<div style="position:absolute;right:653px;top:1405.30px;line-height:14px;font-size:12px;font-weight:bold;color:#333;white-space:nowrap;">0</div>
<div style="position:absolute;left:-215.5px;width:600px;text-align:center;top:1425.60px;line-height:14px;font-size:12px;font-weight:bold;color:#333;white-space:nowrap;">3/22</div>
<div style="position:absolute;left:-184.5px;width:600px;text-align:center;top:1425.60px;line-height:14px;font-size:12px;font-weight:bold;color:#333;white-space:nowrap;">4/12</div>
<div style="position:absolute;left:-153.6px;width:600px;text-align:center;top:1425.60px;line-height:14px;font-size:12px;font-weight:bold;color:#333;white-space:nowrap;">5/3</div>
<div style="position:absolute;left:-122.6px;width:600px;text-align:center;top:1425.60px;line-height:14px;font-size:12px;font-weight:bold;color:#333;white-space:nowrap;">5/24</div>
<div style="position:absolute;left:-91.6px;width:600px;text-align:center;top:1425.60px;line-height:14px;font-size:12px;font-weight:bold;color:#333;white-space:nowrap;">6/14</div>
<div style="position:absolute;left:-60.69999999999999px;width:600px;text-align:center;top:1425.60px;line-height:14px;font-size:12px;font-weight:bold;color:#333;white-space:nowrap;">7/5</div>
<div style="position:absolute;left:-29.69999999999999px;width:600px;text-align:center;top:1425.60px;line-height:14px;font-size:12px;font-weight:bold;color:#333;white-space:nowrap;">7/26</div>
<div style="position:absolute;left:1.1999999999999886px;width:600px;text-align:center;top:1425.60px;line-height:14px;font-size:12px;font-weight:bold;color:#333;white-space:nowrap;">8/16</div>
<div style="position:absolute;left:32.19999999999999px;width:600px;text-align:center;top:1425.60px;line-height:14px;font-size:12px;font-weight:bold;color:#333;white-space:nowrap;">9/6</div>
<div style="position:absolute;left:63.19999999999999px;width:600px;text-align:center;top:1425.60px;line-height:14px;font-size:12px;font-weight:bold;color:#333;white-space:nowrap;">9/27</div>
<div style="position:absolute;left:94.10000000000002px;width:600px;text-align:center;top:1425.60px;line-height:14px;font-size:12px;font-weight:bold;color:#333;white-space:nowrap;">10/18</div>
<div style="position:absolute;left:125.10000000000002px;width:600px;text-align:center;top:1425.60px;line-height:14px;font-size:12px;font-weight:bold;color:#333;white-space:nowrap;">11/8</div>
<div style="position:absolute;left:156.0px;width:600px;text-align:center;top:1425.60px;line-height:14px;font-size:12px;font-weight:bold;color:#333;white-space:nowrap;">11/29</div>
<div style="position:absolute;left:494.5px;top:1248.00px;line-height:14px;font-size:12px;font-weight:bold;color:#333;white-space:nowrap;">Female</div>
<div style="position:absolute;left:494.5px;top:1327.00px;line-height:14px;font-size:12px;font-weight:bold;color:#333;white-space:nowrap;">Male</div>
<div style="position:absolute;left:649px;top:1240.80px;line-height:13px;font-size:11px;font-weight:normal;color:#333;white-space:nowrap;">53%</div>
<div style="position:absolute;left:649px;top:1254.00px;line-height:13px;font-size:11px;font-weight:normal;color:#333;white-space:nowrap;">(2,408)</div>
<div style="position:absolute;left:641px;top:1319.80px;line-height:13px;font-size:11px;font-weight:normal;color:#333;white-space:nowrap;">47%</div>
<div style="position:absolute;left:641px;top:1333.00px;line-height:13px;font-size:11px;font-weight:normal;color:#333;white-space:nowrap;">(2,118)</div>
<div style="position:absolute;left:492.5px;top:1405.70px;line-height:14px;font-size:12px;font-weight:bold;color:#333;white-space:nowrap;">Missing Data</div>
<div style="position:absolute;left:603px;top:1405.00px;line-height:14px;font-size:12px;font-weight:normal;color:#333;white-space:nowrap;">18</div>
<div style="position:absolute;right:16px;top:1464.50px;line-height:15px;font-size:13px;font-weight:bold;color:#333;white-space:nowrap;">December 14, 2020</div>
</body></html>
